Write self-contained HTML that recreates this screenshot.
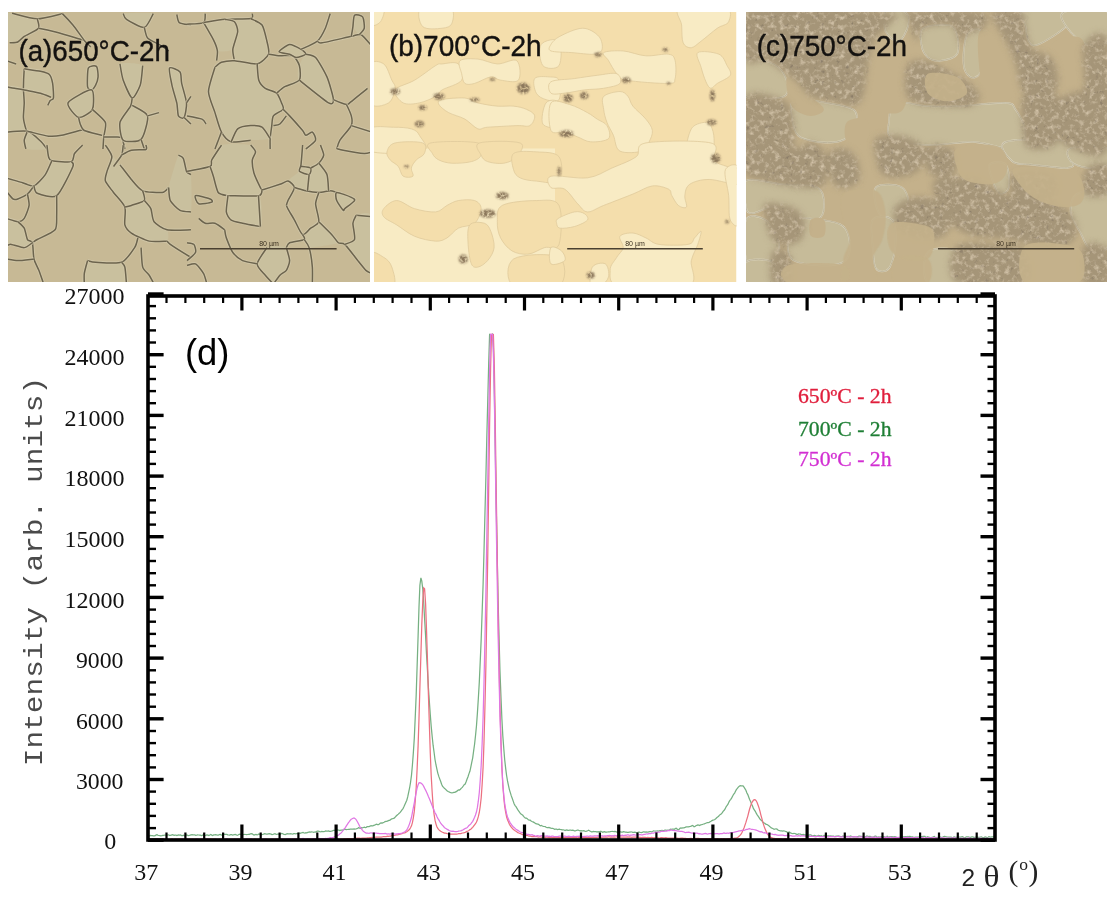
<!DOCTYPE html>
<html><head><meta charset="utf-8"><style>
html,body{margin:0;padding:0;background:#fff;}
body{width:1115px;height:898px;overflow:hidden;position:relative;}
svg{position:absolute;left:0;top:0;}
.tk{font-family:"Liberation Serif",serif;font-size:24px;fill:#111;}
.lab{font-family:"Liberation Sans",sans-serif;font-size:29px;fill:#141210;stroke:#141210;stroke-width:0.4px;}
.leg{font-family:"Liberation Serif",serif;font-size:20px;stroke-width:0.3px;}
.ax{font-family:"Liberation Mono",monospace;font-size:29.3px;fill:#4a4a4a;}
</style></head><body>
<svg width="1115" height="898" viewBox="0 0 1115 898">
<rect width="1115" height="898" fill="#fff"/>
<defs><clipPath id="ca"><rect x="8" y="12" width="362" height="270"/></clipPath><clipPath id="cb"><rect x="374" y="12" width="362.5" height="270"/></clipPath><clipPath id="cc"><rect x="746" y="12" width="361" height="270"/></clipPath><filter id="dk" x="746" y="12" width="361" height="270" filterUnits="userSpaceOnUse" color-interpolation-filters="sRGB"><feGaussianBlur in="SourceGraphic" stdDeviation="3" result="b"/><feTurbulence type="fractalNoise" baseFrequency="0.2" numOctaves="3" seed="7" result="n"/><feColorMatrix in="n" type="matrix" values="0 0 0 0 0.84  0 0 0 0 0.78  0 0 0 0 0.68  2.4 0 0 0 -1.15" result="w"/><feComposite in="w" in2="b" operator="in" result="w2"/><feColorMatrix in="n" type="matrix" values="0 0 0 0 0.45  0 0 0 0 0.4  0 0 0 0 0.35  0 -2.2 0 0 0.75" result="k"/><feComposite in="k" in2="b" operator="in" result="k2"/><feMerge><feMergeNode in="b"/><feMergeNode in="w2"/><feMergeNode in="k2"/></feMerge></filter><filter id="bdk" x="374" y="12" width="363" height="270" filterUnits="userSpaceOnUse" color-interpolation-filters="sRGB"><feGaussianBlur in="SourceGraphic" stdDeviation="1.0" result="b"/><feTurbulence type="fractalNoise" baseFrequency="0.4" numOctaves="2" seed="3" result="n"/><feColorMatrix in="n" type="matrix" values="0 0 0 0 0  0 0 0 0 0  0 0 0 0 0  2.2 0 0 0 -0.25" result="m"/><feComposite in="b" in2="m" operator="in"/></filter><filter id="lsoft" x="746" y="12" width="361" height="270" filterUnits="userSpaceOnUse"><feGaussianBlur stdDeviation="0.6"/></filter></defs>
<g clip-path="url(#ca)">
<rect x="8" y="12" width="362" height="270" fill="rgb(199,185,149)"/>
<g transform="translate(8,12) scale(0.1623)">
<path d="M370,560 C379,540 498,475 515,480 C532,485 529,580 520,600 C511,620 452,655 435,650 C418,645 361,580 370,560Z" fill="rgb(201,192,158)"/>
<path d="M495,345 C501,330 538,329 545,335 C552,341 556,387 555,400 C554,413 545,441 540,450 C535,459 521,479 515,480 C509,481 492,476 490,460 C488,444 489,360 495,345Z" fill="rgb(201,192,158)"/>
<path d="M690,320 C704,310 815,315 830,330 C845,345 823,427 815,450 C807,473 777,534 765,530 C753,526 719,444 710,420 C701,396 676,330 690,320Z" fill="rgb(201,192,158)"/>
<path d="M765,575 C777,582 854,616 860,640 C866,664 838,768 820,785 C802,802 725,802 710,790 C695,778 685,704 690,680 C695,656 746,592 755,580 C764,568 753,568 765,575Z" fill="rgb(201,192,158)"/>
<path d="M995,345 C1001,336 1051,359 1060,370 C1069,381 1065,418 1070,440 C1075,462 1098,536 1100,560 C1102,584 1091,641 1085,650 C1079,659 1055,650 1050,640 C1045,630 1045,582 1040,560 C1035,538 1015,475 1010,450 C1005,425 989,354 995,345Z" fill="rgb(201,192,158)"/>
<path d="M710,10 C729,6 880,0 895,10 C910,20 859,91 840,95 C821,99 745,55 730,45 C715,35 691,14 710,10Z" fill="rgb(201,192,158)"/>
<path d="M-12,470 C1,440 88,459 100,480 C112,501 94,622 95,650 C96,678 122,710 110,720 C98,730 2,769 -12,740 C-26,711 -25,500 -12,470Z" fill="rgb(201,192,158)"/>
<path d="M100,350 C112,337 182,361 200,365 C218,369 246,376 255,385 C264,394 274,424 275,440 C276,456 274,518 265,525 C256,532 219,505 200,500 C181,495 112,498 100,480 C88,462 88,363 100,350Z" fill="rgb(201,192,158)"/>
<path d="M120,735 C132,736 186,782 200,795 C214,808 250,838 240,844 C230,850 126,850 110,844 C94,838 99,803 100,790 C101,777 108,734 120,735Z" fill="rgb(201,192,158)"/>
<path d="M25,8 C47,12 161,31 180,42 C199,53 197,87 188,100 C179,113 121,140 100,150 C79,160 23,196 10,190 C-3,184 -9,121 -12,100 C-15,79 -16,21 -12,10 C-8,-1 3,4 25,8Z" fill="rgb(201,192,158)"/>
<path d="M25,8 C43,12 144,42 180,42 C216,42 317,14 335,10" fill="none" stroke="rgb(210,200,170)" stroke-width="3.2" vector-effect="non-scaling-stroke" stroke-linejoin="round" opacity="0.8"/>
<path d="M25,8 C43,12 144,42 180,42 C216,42 317,14 335,10" fill="none" stroke="rgb(108,100,78)" stroke-width="1.5" vector-effect="non-scaling-stroke" stroke-linejoin="round"/>
<path d="M180,42 C181,49 197,87 188,100 C179,113 115,140 100,150 C85,160 70,180 60,185 C50,190 16,189 10,190" fill="none" stroke="rgb(210,200,170)" stroke-width="3.2" vector-effect="non-scaling-stroke" stroke-linejoin="round" opacity="0.8"/>
<path d="M180,42 C181,49 197,87 188,100 C179,113 115,140 100,150 C85,160 70,180 60,185 C50,190 16,189 10,190" fill="none" stroke="rgb(108,100,78)" stroke-width="1.5" vector-effect="non-scaling-stroke" stroke-linejoin="round"/>
<path d="M188,100 C201,103 273,118 300,125 C327,132 400,154 420,160 C440,166 464,173 470,175" fill="none" stroke="rgb(210,200,170)" stroke-width="3.2" vector-effect="non-scaling-stroke" stroke-linejoin="round" opacity="0.8"/>
<path d="M188,100 C201,103 273,118 300,125 C327,132 400,154 420,160 C440,166 464,173 470,175" fill="none" stroke="rgb(108,100,78)" stroke-width="1.5" vector-effect="non-scaling-stroke" stroke-linejoin="round"/>
<path d="M335,10 C343,18 384,61 400,80 C416,99 457,159 470,175 C483,191 505,210 510,215" fill="none" stroke="rgb(210,200,170)" stroke-width="3.2" vector-effect="non-scaling-stroke" stroke-linejoin="round" opacity="0.8"/>
<path d="M335,10 C343,18 384,61 400,80 C416,99 457,159 470,175 C483,191 505,210 510,215" fill="none" stroke="rgb(108,100,78)" stroke-width="1.5" vector-effect="non-scaling-stroke" stroke-linejoin="round"/>
<path d="M710,10 C712,14 715,35 730,45 C745,55 821,99 840,95 C859,91 889,20 895,10" fill="none" stroke="rgb(210,200,170)" stroke-width="3.2" vector-effect="non-scaling-stroke" stroke-linejoin="round" opacity="0.8"/>
<path d="M710,10 C712,14 715,35 730,45 C745,55 821,99 840,95 C859,91 889,20 895,10" fill="none" stroke="rgb(108,100,78)" stroke-width="1.5" vector-effect="non-scaling-stroke" stroke-linejoin="round"/>
<path d="M840,95 C842,103 850,148 860,160 C870,172 915,191 930,200 C945,209 983,235 990,240" fill="none" stroke="rgb(210,200,170)" stroke-width="3.2" vector-effect="non-scaling-stroke" stroke-linejoin="round" opacity="0.8"/>
<path d="M840,95 C842,103 850,148 860,160 C870,172 915,191 930,200 C945,209 983,235 990,240" fill="none" stroke="rgb(108,100,78)" stroke-width="1.5" vector-effect="non-scaling-stroke" stroke-linejoin="round"/>
<path d="M1040,15 C1042,21 1045,57 1055,65 C1065,73 1119,78 1127,80" fill="none" stroke="rgb(210,200,170)" stroke-width="3.2" vector-effect="non-scaling-stroke" stroke-linejoin="round" opacity="0.8"/>
<path d="M1040,15 C1042,21 1045,57 1055,65 C1065,73 1119,78 1127,80" fill="none" stroke="rgb(108,100,78)" stroke-width="1.5" vector-effect="non-scaling-stroke" stroke-linejoin="round"/>
<path d="M100,350 C99,364 95,446 95,470 C95,494 100,539 100,560 C100,581 94,631 95,650 C96,669 107,710 110,720 C113,730 119,733 120,735" fill="none" stroke="rgb(210,200,170)" stroke-width="3.2" vector-effect="non-scaling-stroke" stroke-linejoin="round" opacity="0.8"/>
<path d="M100,350 C99,364 95,446 95,470 C95,494 100,539 100,560 C100,581 94,631 95,650 C96,669 107,710 110,720 C113,730 119,733 120,735" fill="none" stroke="rgb(108,100,78)" stroke-width="1.5" vector-effect="non-scaling-stroke" stroke-linejoin="round"/>
<path d="M100,350 C112,352 182,361 200,365 C218,369 246,376 255,385 C264,394 272,423 275,440 C278,457 282,518 280,530 C278,542 264,540 260,545 C256,550 247,572 245,575" fill="none" stroke="rgb(210,200,170)" stroke-width="3.2" vector-effect="non-scaling-stroke" stroke-linejoin="round" opacity="0.8"/>
<path d="M100,350 C112,352 182,361 200,365 C218,369 246,376 255,385 C264,394 272,423 275,440 C278,457 282,518 280,530 C278,542 264,540 260,545 C256,550 247,572 245,575" fill="none" stroke="rgb(108,100,78)" stroke-width="1.5" vector-effect="non-scaling-stroke" stroke-linejoin="round"/>
<path d="M-12,460 C-6,461 27,468 40,470 C53,472 81,476 100,480 C119,484 181,495 200,500 C219,505 257,522 265,525" fill="none" stroke="rgb(210,200,170)" stroke-width="3.2" vector-effect="non-scaling-stroke" stroke-linejoin="round" opacity="0.8"/>
<path d="M-12,460 C-6,461 27,468 40,470 C53,472 81,476 100,480 C119,484 181,495 200,500 C219,505 257,522 265,525" fill="none" stroke="rgb(108,100,78)" stroke-width="1.5" vector-effect="non-scaling-stroke" stroke-linejoin="round"/>
<path d="M-12,740 C3,739 95,729 120,735 C145,741 186,782 200,795 C214,808 235,838 240,844" fill="none" stroke="rgb(210,200,170)" stroke-width="3.2" vector-effect="non-scaling-stroke" stroke-linejoin="round" opacity="0.8"/>
<path d="M-12,740 C3,739 95,729 120,735 C145,741 186,782 200,795 C214,808 235,838 240,844" fill="none" stroke="rgb(108,100,78)" stroke-width="1.5" vector-effect="non-scaling-stroke" stroke-linejoin="round"/>
<path d="M120,735 C118,741 101,777 100,790 C99,803 109,838 110,844" fill="none" stroke="rgb(210,200,170)" stroke-width="3.2" vector-effect="non-scaling-stroke" stroke-linejoin="round" opacity="0.8"/>
<path d="M120,735 C118,741 101,777 100,790 C99,803 109,838 110,844" fill="none" stroke="rgb(108,100,78)" stroke-width="1.5" vector-effect="non-scaling-stroke" stroke-linejoin="round"/>
<path d="M120,735 C135,738 226,762 250,765 C274,768 308,764 330,760 C352,756 424,734 440,730 C456,726 466,730 470,730" fill="none" stroke="rgb(210,200,170)" stroke-width="3.2" vector-effect="non-scaling-stroke" stroke-linejoin="round" opacity="0.8"/>
<path d="M120,735 C135,738 226,762 250,765 C274,768 308,764 330,760 C352,756 424,734 440,730 C456,726 466,730 470,730" fill="none" stroke="rgb(108,100,78)" stroke-width="1.5" vector-effect="non-scaling-stroke" stroke-linejoin="round"/>
<path d="M495,345 C501,330 538,329 545,335 C552,341 556,387 555,400 C554,413 545,441 540,450 C535,459 521,479 515,480 C509,481 492,476 490,460 C488,444 489,360 495,345Z" fill="none" stroke="rgb(210,200,170)" stroke-width="3.2" vector-effect="non-scaling-stroke" stroke-linejoin="round" opacity="0.8"/>
<path d="M495,345 C501,330 538,329 545,335 C552,341 556,387 555,400 C554,413 545,441 540,450 C535,459 521,479 515,480 C509,481 492,476 490,460 C488,444 489,360 495,345Z" fill="none" stroke="rgb(108,100,78)" stroke-width="1.5" vector-effect="non-scaling-stroke" stroke-linejoin="round"/>
<path d="M515,480 C498,475 379,540 370,560 C361,580 418,645 435,650 C452,655 511,620 520,600 C529,580 532,485 515,480Z" fill="none" stroke="rgb(210,200,170)" stroke-width="3.2" vector-effect="non-scaling-stroke" stroke-linejoin="round" opacity="0.8"/>
<path d="M515,480 C498,475 379,540 370,560 C361,580 418,645 435,650 C452,655 511,620 520,600 C529,580 532,485 515,480Z" fill="none" stroke="rgb(108,100,78)" stroke-width="1.5" vector-effect="non-scaling-stroke" stroke-linejoin="round"/>
<path d="M435,650 C436,655 441,681 445,690 C449,699 454,722 470,730 C486,738 567,756 580,760" fill="none" stroke="rgb(210,200,170)" stroke-width="3.2" vector-effect="non-scaling-stroke" stroke-linejoin="round" opacity="0.8"/>
<path d="M435,650 C436,655 441,681 445,690 C449,699 454,722 470,730 C486,738 567,756 580,760" fill="none" stroke="rgb(108,100,78)" stroke-width="1.5" vector-effect="non-scaling-stroke" stroke-linejoin="round"/>
<path d="M520,600 C529,609 592,660 600,680 C608,700 592,751 590,770 C588,789 586,835 585,844" fill="none" stroke="rgb(210,200,170)" stroke-width="3.2" vector-effect="non-scaling-stroke" stroke-linejoin="round" opacity="0.8"/>
<path d="M520,600 C529,609 592,660 600,680 C608,700 592,751 590,770 C588,789 586,835 585,844" fill="none" stroke="rgb(108,100,78)" stroke-width="1.5" vector-effect="non-scaling-stroke" stroke-linejoin="round"/>
<path d="M590,770 C597,770 637,769 650,770 C663,771 692,766 700,775 C708,784 718,836 720,844" fill="none" stroke="rgb(210,200,170)" stroke-width="3.2" vector-effect="non-scaling-stroke" stroke-linejoin="round" opacity="0.8"/>
<path d="M590,770 C597,770 637,769 650,770 C663,771 692,766 700,775 C708,784 718,836 720,844" fill="none" stroke="rgb(108,100,78)" stroke-width="1.5" vector-effect="non-scaling-stroke" stroke-linejoin="round"/>
<path d="M690,320 C692,332 701,396 710,420 C719,444 753,526 765,530 C777,534 807,473 815,450 C823,427 828,344 830,330" fill="none" stroke="rgb(210,200,170)" stroke-width="3.2" vector-effect="non-scaling-stroke" stroke-linejoin="round" opacity="0.8"/>
<path d="M690,320 C692,332 701,396 710,420 C719,444 753,526 765,530 C777,534 807,473 815,450 C823,427 828,344 830,330" fill="none" stroke="rgb(108,100,78)" stroke-width="1.5" vector-effect="non-scaling-stroke" stroke-linejoin="round"/>
<path d="M765,530 C764,536 764,562 755,580 C746,598 695,656 690,680 C685,704 695,778 710,790 C725,802 802,802 820,785 C838,768 866,664 860,640 C854,616 776,583 765,575" fill="none" stroke="rgb(210,200,170)" stroke-width="3.2" vector-effect="non-scaling-stroke" stroke-linejoin="round" opacity="0.8"/>
<path d="M765,530 C764,536 764,562 755,580 C746,598 695,656 690,680 C685,704 695,778 710,790 C725,802 802,802 820,785 C838,768 866,664 860,640 C854,616 776,583 765,575" fill="none" stroke="rgb(108,100,78)" stroke-width="1.5" vector-effect="non-scaling-stroke" stroke-linejoin="round"/>
<path d="M860,640 L930,620" fill="none" stroke="rgb(210,200,170)" stroke-width="3.2" vector-effect="non-scaling-stroke" stroke-linejoin="round" opacity="0.8"/>
<path d="M860,640 L930,620" fill="none" stroke="rgb(108,100,78)" stroke-width="1.5" vector-effect="non-scaling-stroke" stroke-linejoin="round"/>
<path d="M820,785 L840,844" fill="none" stroke="rgb(210,200,170)" stroke-width="3.2" vector-effect="non-scaling-stroke" stroke-linejoin="round" opacity="0.8"/>
<path d="M820,785 L840,844" fill="none" stroke="rgb(108,100,78)" stroke-width="1.5" vector-effect="non-scaling-stroke" stroke-linejoin="round"/>
<path d="M995,345 C989,354 1005,425 1010,450 C1015,475 1035,538 1040,560 C1045,582 1045,630 1050,640 C1055,650 1079,659 1085,650 C1091,641 1102,584 1100,560 C1098,536 1075,462 1070,440 C1065,418 1069,381 1060,370 C1051,359 1001,336 995,345Z" fill="none" stroke="rgb(210,200,170)" stroke-width="3.2" vector-effect="non-scaling-stroke" stroke-linejoin="round" opacity="0.8"/>
<path d="M995,345 C989,354 1005,425 1010,450 C1015,475 1035,538 1040,560 C1045,582 1045,630 1050,640 C1055,650 1079,659 1085,650 C1091,641 1102,584 1100,560 C1098,536 1075,462 1070,440 C1065,418 1069,381 1060,370 C1051,359 1001,336 995,345Z" fill="none" stroke="rgb(108,100,78)" stroke-width="1.5" vector-effect="non-scaling-stroke" stroke-linejoin="round"/>
<path d="M1100,560 L1127,520" fill="none" stroke="rgb(210,200,170)" stroke-width="3.2" vector-effect="non-scaling-stroke" stroke-linejoin="round" opacity="0.8"/>
<path d="M1100,560 L1127,520" fill="none" stroke="rgb(108,100,78)" stroke-width="1.5" vector-effect="non-scaling-stroke" stroke-linejoin="round"/>
<path d="M1085,650 L1127,690" fill="none" stroke="rgb(210,200,170)" stroke-width="3.2" vector-effect="non-scaling-stroke" stroke-linejoin="round" opacity="0.8"/>
<path d="M1085,650 L1127,690" fill="none" stroke="rgb(108,100,78)" stroke-width="1.5" vector-effect="non-scaling-stroke" stroke-linejoin="round"/>
<path d="M-12,300 L50,320" fill="none" stroke="rgb(210,200,170)" stroke-width="3.2" vector-effect="non-scaling-stroke" stroke-linejoin="round" opacity="0.8"/>
<path d="M-12,300 L50,320" fill="none" stroke="rgb(108,100,78)" stroke-width="1.5" vector-effect="non-scaling-stroke" stroke-linejoin="round"/>
</g>
<g transform="translate(189,12) scale(0.1623)">
<path d="M160,340 C169,319 186,315 200,310 C214,305 254,299 280,300 C306,301 402,306 420,320 C438,334 424,402 430,420 C436,438 457,461 470,470 C483,479 528,490 540,500 C552,510 565,548 570,560 C575,572 586,591 580,600 C574,609 528,628 520,640 C512,652 512,684 510,700 C508,716 515,770 500,780 C485,790 408,788 380,790 C352,792 281,806 260,800 C239,794 212,761 200,740 C188,719 169,649 160,620 C151,591 120,523 120,490 C120,457 151,361 160,340Z" fill="rgb(201,192,158)"/>
<path d="M720,260 C732,254 765,264 780,280 C795,296 837,370 850,400 C863,430 889,521 890,540 C891,559 884,574 860,560 C836,546 701,447 680,420 C659,393 675,349 680,330 C685,311 708,266 720,260Z" fill="rgb(201,192,158)"/>
<path d="M90,65 C98,50 198,46 220,45 C242,44 271,51 280,60 C289,69 301,100 300,120 C299,140 285,216 270,230 C255,244 189,247 175,240 C161,233 160,190 150,170 C140,150 82,80 90,65Z" fill="rgb(201,192,158)"/>
<path d="M1020,20 C1027,13 1063,21 1070,30 C1077,39 1082,87 1080,100 C1078,113 1058,141 1050,140 C1042,139 1014,104 1010,90 C1006,76 1013,27 1020,20Z" fill="rgb(201,192,158)"/>
<path d="M555,245 C555,238 604,202 620,200 C636,198 678,223 690,230 C702,237 724,254 720,260 C716,266 672,280 660,280 C648,280 632,264 620,260 C608,256 555,252 555,245Z" fill="rgb(201,192,158)"/>
<path d="M300,120 C301,100 271,69 280,60 C289,51 360,38 380,40 C400,42 438,64 450,80 C462,96 475,159 480,180 C485,201 497,244 490,260 C483,276 444,315 420,320 C396,325 298,310 280,300 C262,290 268,251 270,230 C272,209 299,140 300,120Z" fill="rgb(201,192,158)"/>
<path d="M-12,75 C-0,74 77,73 90,65 C103,57 99,16 100,10" fill="none" stroke="rgb(210,200,170)" stroke-width="3.2" vector-effect="non-scaling-stroke" stroke-linejoin="round" opacity="0.8"/>
<path d="M-12,75 C-0,74 77,73 90,65 C103,57 99,16 100,10" fill="none" stroke="rgb(108,100,78)" stroke-width="1.5" vector-effect="non-scaling-stroke" stroke-linejoin="round"/>
<path d="M90,65 C97,77 140,150 150,170 C160,190 173,225 175,240 C177,255 171,293 170,300" fill="none" stroke="rgb(210,200,170)" stroke-width="3.2" vector-effect="non-scaling-stroke" stroke-linejoin="round" opacity="0.8"/>
<path d="M90,65 C97,77 140,150 150,170 C160,190 173,225 175,240 C177,255 171,293 170,300" fill="none" stroke="rgb(108,100,78)" stroke-width="1.5" vector-effect="non-scaling-stroke" stroke-linejoin="round"/>
<path d="M90,65 C105,63 186,48 220,45 C254,42 360,44 380,40 C400,36 389,14 390,10" fill="none" stroke="rgb(210,200,170)" stroke-width="3.2" vector-effect="non-scaling-stroke" stroke-linejoin="round" opacity="0.8"/>
<path d="M90,65 C105,63 186,48 220,45 C254,42 360,44 380,40 C400,36 389,14 390,10" fill="none" stroke="rgb(108,100,78)" stroke-width="1.5" vector-effect="non-scaling-stroke" stroke-linejoin="round"/>
<path d="M220,45 C227,47 271,51 280,60 C289,69 301,100 300,120 C299,140 272,209 270,230 C268,251 279,292 280,300" fill="none" stroke="rgb(210,200,170)" stroke-width="3.2" vector-effect="non-scaling-stroke" stroke-linejoin="round" opacity="0.8"/>
<path d="M220,45 C227,47 271,51 280,60 C289,69 301,100 300,120 C299,140 272,209 270,230 C268,251 279,292 280,300" fill="none" stroke="rgb(108,100,78)" stroke-width="1.5" vector-effect="non-scaling-stroke" stroke-linejoin="round"/>
<path d="M380,40 C388,45 438,64 450,80 C462,96 475,159 480,180 C485,201 497,244 490,260 C483,276 444,315 420,320 C396,325 306,301 280,300 C254,299 214,305 200,310 C186,315 165,336 160,340" fill="none" stroke="rgb(210,200,170)" stroke-width="3.2" vector-effect="non-scaling-stroke" stroke-linejoin="round" opacity="0.8"/>
<path d="M380,40 C388,45 438,64 450,80 C462,96 475,159 480,180 C485,201 497,244 490,260 C483,276 444,315 420,320 C396,325 306,301 280,300 C254,299 214,305 200,310 C186,315 165,336 160,340" fill="none" stroke="rgb(108,100,78)" stroke-width="1.5" vector-effect="non-scaling-stroke" stroke-linejoin="round"/>
<path d="M160,340 C155,358 120,457 120,490 C120,523 151,591 160,620 C169,649 188,719 200,740 C212,761 239,794 260,800 C281,806 366,791 380,790" fill="none" stroke="rgb(210,200,170)" stroke-width="3.2" vector-effect="non-scaling-stroke" stroke-linejoin="round" opacity="0.8"/>
<path d="M160,340 C155,358 120,457 120,490 C120,523 151,591 160,620 C169,649 188,719 200,740 C212,761 239,794 260,800 C281,806 366,791 380,790" fill="none" stroke="rgb(108,100,78)" stroke-width="1.5" vector-effect="non-scaling-stroke" stroke-linejoin="round"/>
<path d="M420,320 C421,332 424,402 430,420 C436,438 457,461 470,470 C483,479 528,490 540,500 C552,510 565,548 570,560 C575,572 586,591 580,600 C574,609 528,628 520,640 C512,652 512,684 510,700 C508,716 501,763 500,780 C499,797 500,837 500,844" fill="none" stroke="rgb(210,200,170)" stroke-width="3.2" vector-effect="non-scaling-stroke" stroke-linejoin="round" opacity="0.8"/>
<path d="M420,320 C421,332 424,402 430,420 C436,438 457,461 470,470 C483,479 528,490 540,500 C552,510 565,548 570,560 C575,572 586,591 580,600 C574,609 528,628 520,640 C512,652 512,684 510,700 C508,716 501,763 500,780 C499,797 500,837 500,844" fill="none" stroke="rgb(108,100,78)" stroke-width="1.5" vector-effect="non-scaling-stroke" stroke-linejoin="round"/>
<path d="M490,260 C498,261 542,269 560,270 C578,271 626,263 640,270 C654,277 675,312 680,330 C685,348 690,405 680,420 C670,435 606,451 590,460 C574,469 546,495 540,500" fill="none" stroke="rgb(210,200,170)" stroke-width="3.2" vector-effect="non-scaling-stroke" stroke-linejoin="round" opacity="0.8"/>
<path d="M490,260 C498,261 542,269 560,270 C578,271 626,263 640,270 C654,277 675,312 680,330 C685,348 690,405 680,420 C670,435 606,451 590,460 C574,469 546,495 540,500" fill="none" stroke="rgb(108,100,78)" stroke-width="1.5" vector-effect="non-scaling-stroke" stroke-linejoin="round"/>
<path d="M555,245 C555,238 604,202 620,200 C636,198 678,223 690,230 C702,237 724,254 720,260 C716,266 672,280 660,280 C648,280 632,264 620,260 C608,256 555,252 555,245Z" fill="none" stroke="rgb(210,200,170)" stroke-width="3.2" vector-effect="non-scaling-stroke" stroke-linejoin="round" opacity="0.8"/>
<path d="M555,245 C555,238 604,202 620,200 C636,198 678,223 690,230 C702,237 724,254 720,260 C716,266 672,280 660,280 C648,280 632,264 620,260 C608,256 555,252 555,245Z" fill="none" stroke="rgb(108,100,78)" stroke-width="1.5" vector-effect="non-scaling-stroke" stroke-linejoin="round"/>
<path d="M690,230 C702,224 772,195 790,180 C808,165 831,120 840,100 C849,80 866,20 870,10" fill="none" stroke="rgb(210,200,170)" stroke-width="3.2" vector-effect="non-scaling-stroke" stroke-linejoin="round" opacity="0.8"/>
<path d="M690,230 C702,224 772,195 790,180 C808,165 831,120 840,100 C849,80 866,20 870,10" fill="none" stroke="rgb(108,100,78)" stroke-width="1.5" vector-effect="non-scaling-stroke" stroke-linejoin="round"/>
<path d="M790,180 C794,181 796,194 820,190 C844,186 972,156 1000,150 C1028,144 1045,133 1060,140 C1075,147 1119,202 1127,210" fill="none" stroke="rgb(210,200,170)" stroke-width="3.2" vector-effect="non-scaling-stroke" stroke-linejoin="round" opacity="0.8"/>
<path d="M790,180 C794,181 796,194 820,190 C844,186 972,156 1000,150 C1028,144 1045,133 1060,140 C1075,147 1119,202 1127,210" fill="none" stroke="rgb(108,100,78)" stroke-width="1.5" vector-effect="non-scaling-stroke" stroke-linejoin="round"/>
<path d="M1000,150 C1001,143 1008,105 1010,90 C1012,75 1013,27 1020,20 C1027,13 1063,21 1070,30 C1077,39 1082,87 1080,100 C1078,113 1054,135 1050,140" fill="none" stroke="rgb(210,200,170)" stroke-width="3.2" vector-effect="non-scaling-stroke" stroke-linejoin="round" opacity="0.8"/>
<path d="M1000,150 C1001,143 1008,105 1010,90 C1012,75 1013,27 1020,20 C1027,13 1063,21 1070,30 C1077,39 1082,87 1080,100 C1078,113 1054,135 1050,140" fill="none" stroke="rgb(108,100,78)" stroke-width="1.5" vector-effect="non-scaling-stroke" stroke-linejoin="round"/>
<path d="M720,260 C727,262 765,264 780,280 C795,296 837,370 850,400 C863,430 889,521 890,540 C891,559 884,574 860,560 C836,546 701,436 680,420" fill="none" stroke="rgb(210,200,170)" stroke-width="3.2" vector-effect="non-scaling-stroke" stroke-linejoin="round" opacity="0.8"/>
<path d="M720,260 C727,262 765,264 780,280 C795,296 837,370 850,400 C863,430 889,521 890,540 C891,559 884,574 860,560 C836,546 701,436 680,420" fill="none" stroke="rgb(108,100,78)" stroke-width="1.5" vector-effect="non-scaling-stroke" stroke-linejoin="round"/>
<path d="M890,540 C899,544 958,568 970,570 C982,572 975,572 990,560 C1005,548 1087,480 1100,470" fill="none" stroke="rgb(210,200,170)" stroke-width="3.2" vector-effect="non-scaling-stroke" stroke-linejoin="round" opacity="0.8"/>
<path d="M890,540 C899,544 958,568 970,570 C982,572 975,572 990,560 C1005,548 1087,480 1100,470" fill="none" stroke="rgb(108,100,78)" stroke-width="1.5" vector-effect="non-scaling-stroke" stroke-linejoin="round"/>
<path d="M970,570 C974,578 996,625 1000,640 C1004,655 1008,682 1000,700 C992,718 940,773 930,790 C920,807 912,838 910,844" fill="none" stroke="rgb(210,200,170)" stroke-width="3.2" vector-effect="non-scaling-stroke" stroke-linejoin="round" opacity="0.8"/>
<path d="M970,570 C974,578 996,625 1000,640 C1004,655 1008,682 1000,700 C992,718 940,773 930,790 C920,807 912,838 910,844" fill="none" stroke="rgb(108,100,78)" stroke-width="1.5" vector-effect="non-scaling-stroke" stroke-linejoin="round"/>
<path d="M1000,700 L1127,740" fill="none" stroke="rgb(210,200,170)" stroke-width="3.2" vector-effect="non-scaling-stroke" stroke-linejoin="round" opacity="0.8"/>
<path d="M1000,700 L1127,740" fill="none" stroke="rgb(108,100,78)" stroke-width="1.5" vector-effect="non-scaling-stroke" stroke-linejoin="round"/>
<path d="M580,600 C585,605 606,625 620,640 C634,655 688,716 700,730 C712,744 713,759 720,760 C727,761 753,736 760,740 C767,744 785,778 780,790 C775,802 727,838 720,844" fill="none" stroke="rgb(210,200,170)" stroke-width="3.2" vector-effect="non-scaling-stroke" stroke-linejoin="round" opacity="0.8"/>
<path d="M580,600 C585,605 606,625 620,640 C634,655 688,716 700,730 C712,744 713,759 720,760 C727,761 753,736 760,740 C767,744 785,778 780,790 C775,802 727,838 720,844" fill="none" stroke="rgb(108,100,78)" stroke-width="1.5" vector-effect="non-scaling-stroke" stroke-linejoin="round"/>
<path d="M600,640 C595,646 569,683 560,690 C551,697 525,699 520,700" fill="none" stroke="rgb(210,200,170)" stroke-width="3.2" vector-effect="non-scaling-stroke" stroke-linejoin="round" opacity="0.8"/>
<path d="M600,640 C595,646 569,683 560,690 C551,697 525,699 520,700" fill="none" stroke="rgb(108,100,78)" stroke-width="1.5" vector-effect="non-scaling-stroke" stroke-linejoin="round"/>
<path d="M260,800 C265,791 286,732 300,720 C314,708 362,701 380,700 C398,699 436,701 450,710 C464,719 494,772 500,780" fill="none" stroke="rgb(210,200,170)" stroke-width="3.2" vector-effect="non-scaling-stroke" stroke-linejoin="round" opacity="0.8"/>
<path d="M260,800 C265,791 286,732 300,720 C314,708 362,701 380,700 C398,699 436,701 450,710 C464,719 494,772 500,780" fill="none" stroke="rgb(108,100,78)" stroke-width="1.5" vector-effect="non-scaling-stroke" stroke-linejoin="round"/>
<path d="M-12,640 C-1,642 66,654 80,660 C94,666 102,686 105,690" fill="none" stroke="rgb(210,200,170)" stroke-width="3.2" vector-effect="non-scaling-stroke" stroke-linejoin="round" opacity="0.8"/>
<path d="M-12,640 C-1,642 66,654 80,660 C94,666 102,686 105,690" fill="none" stroke="rgb(108,100,78)" stroke-width="1.5" vector-effect="non-scaling-stroke" stroke-linejoin="round"/>
<path d="M200,740 L160,844" fill="none" stroke="rgb(210,200,170)" stroke-width="3.2" vector-effect="non-scaling-stroke" stroke-linejoin="round" opacity="0.8"/>
<path d="M200,740 L160,844" fill="none" stroke="rgb(108,100,78)" stroke-width="1.5" vector-effect="non-scaling-stroke" stroke-linejoin="round"/>
</g>
<g transform="translate(8,147) scale(0.1623)">
<path d="M160,240 C166,227 217,188 230,170 C243,152 251,94 270,85 C289,76 375,86 390,90 C405,94 410,96 400,120 C390,144 326,281 300,300 C274,319 196,292 180,285 C164,278 154,253 160,240Z" fill="rgb(201,192,158)"/>
<path d="M610,150 C615,132 631,65 640,60 C649,55 676,94 690,110 C704,126 744,181 760,200 C776,219 821,255 830,270 C839,285 848,320 840,330 C832,340 774,355 760,360 C746,365 733,379 720,370 C707,361 664,299 650,280 C636,261 605,225 600,210 C595,195 605,168 610,150Z" fill="rgb(201,192,158)"/>
<path d="M720,370 C725,356 746,365 760,360 C774,355 826,328 840,330 C854,332 873,365 880,380 C887,395 888,445 900,460 C912,475 971,496 980,510 C989,524 993,572 980,580 C967,588 896,586 870,580 C844,574 778,542 760,530 C742,518 725,499 720,480 C715,461 715,384 720,370Z" fill="rgb(201,192,158)"/>
<path d="M-12,440 C-4,422 47,453 60,460 C73,467 93,487 100,500 C107,513 114,560 120,570 C126,580 152,584 150,590 C148,596 115,619 100,620 C85,621 33,601 20,600 C7,599 -8,629 -12,610 C-16,591 -20,458 -12,440Z" fill="rgb(201,192,158)"/>
<path d="M490,700 C498,692 516,709 540,710 C564,711 679,706 700,710 C721,714 716,724 720,740 C724,756 759,832 730,844 C701,856 500,851 470,844 C440,837 468,797 470,780 C472,763 482,708 490,700Z" fill="rgb(201,192,158)"/>
<path d="M990,250 C984,283 992,314 1000,330 C1008,346 1045,382 1060,390 C1075,398 1119,426 1127,400 C1135,374 1130,199 1127,170 C1124,141 1105,162 1100,150 C1095,138 1086,82 1080,70 C1074,58 1060,29 1050,50 C1040,71 996,217 990,250Z" fill="rgb(201,192,158)"/>
<path d="M240,-12 C241,-4 246,49 250,60 C254,71 254,82 270,85 C286,88 374,95 390,90 C406,85 402,52 410,40 C418,28 454,-6 460,-12" fill="none" stroke="rgb(210,200,170)" stroke-width="3.2" vector-effect="non-scaling-stroke" stroke-linejoin="round" opacity="0.8"/>
<path d="M240,-12 C241,-4 246,49 250,60 C254,71 254,82 270,85 C286,88 374,95 390,90 C406,85 402,52 410,40 C418,28 454,-6 460,-12" fill="none" stroke="rgb(108,100,78)" stroke-width="1.5" vector-effect="non-scaling-stroke" stroke-linejoin="round"/>
<path d="M270,85 C265,95 243,152 230,170 C217,188 176,234 160,240 C144,246 110,226 90,220 C70,214 -0,194 -12,190" fill="none" stroke="rgb(210,200,170)" stroke-width="3.2" vector-effect="non-scaling-stroke" stroke-linejoin="round" opacity="0.8"/>
<path d="M270,85 C265,95 243,152 230,170 C217,188 176,234 160,240 C144,246 110,226 90,220 C70,214 -0,194 -12,190" fill="none" stroke="rgb(108,100,78)" stroke-width="1.5" vector-effect="non-scaling-stroke" stroke-linejoin="round"/>
<path d="M160,240 C155,246 132,281 120,290 C108,299 70,316 60,320 C50,324 38,326 30,320 C22,314 -7,276 -12,270" fill="none" stroke="rgb(210,200,170)" stroke-width="3.2" vector-effect="non-scaling-stroke" stroke-linejoin="round" opacity="0.8"/>
<path d="M160,240 C155,246 132,281 120,290 C108,299 70,316 60,320 C50,324 38,326 30,320 C22,314 -7,276 -12,270" fill="none" stroke="rgb(108,100,78)" stroke-width="1.5" vector-effect="non-scaling-stroke" stroke-linejoin="round"/>
<path d="M160,240 C162,245 164,278 180,285 C196,292 274,319 300,300 C326,281 390,144 400,120 C410,96 391,94 390,90" fill="none" stroke="rgb(210,200,170)" stroke-width="3.2" vector-effect="non-scaling-stroke" stroke-linejoin="round" opacity="0.8"/>
<path d="M160,240 C162,245 164,278 180,285 C196,292 274,319 300,300 C326,281 390,144 400,120 C410,96 391,94 390,90" fill="none" stroke="rgb(108,100,78)" stroke-width="1.5" vector-effect="non-scaling-stroke" stroke-linejoin="round"/>
<path d="M300,300 C300,314 301,396 300,420 C299,444 304,492 290,510 C276,528 196,561 180,570 C164,579 154,588 150,590" fill="none" stroke="rgb(210,200,170)" stroke-width="3.2" vector-effect="non-scaling-stroke" stroke-linejoin="round" opacity="0.8"/>
<path d="M300,300 C300,314 301,396 300,420 C299,444 304,492 290,510 C276,528 196,561 180,570 C164,579 154,588 150,590" fill="none" stroke="rgb(108,100,78)" stroke-width="1.5" vector-effect="non-scaling-stroke" stroke-linejoin="round"/>
<path d="M120,290 C121,298 132,342 130,360 C128,378 108,428 100,440 C92,452 73,460 60,460 C47,460 -4,442 -12,440" fill="none" stroke="rgb(210,200,170)" stroke-width="3.2" vector-effect="non-scaling-stroke" stroke-linejoin="round" opacity="0.8"/>
<path d="M120,290 C121,298 132,342 130,360 C128,378 108,428 100,440 C92,452 73,460 60,460 C47,460 -4,442 -12,440" fill="none" stroke="rgb(108,100,78)" stroke-width="1.5" vector-effect="non-scaling-stroke" stroke-linejoin="round"/>
<path d="M60,460 C65,465 93,487 100,500 C107,513 114,560 120,570 C126,580 145,576 150,590 C155,604 155,670 160,690 C165,710 183,742 190,760 C197,778 216,834 220,844" fill="none" stroke="rgb(210,200,170)" stroke-width="3.2" vector-effect="non-scaling-stroke" stroke-linejoin="round" opacity="0.8"/>
<path d="M60,460 C65,465 93,487 100,500 C107,513 114,560 120,570 C126,580 145,576 150,590 C155,604 155,670 160,690 C165,710 183,742 190,760 C197,778 216,834 220,844" fill="none" stroke="rgb(108,100,78)" stroke-width="1.5" vector-effect="non-scaling-stroke" stroke-linejoin="round"/>
<path d="M150,590 C144,594 115,619 100,620 C85,621 33,601 20,600 C7,599 -8,609 -12,610" fill="none" stroke="rgb(210,200,170)" stroke-width="3.2" vector-effect="non-scaling-stroke" stroke-linejoin="round" opacity="0.8"/>
<path d="M150,590 C144,594 115,619 100,620 C85,621 33,601 20,600 C7,599 -8,609 -12,610" fill="none" stroke="rgb(108,100,78)" stroke-width="1.5" vector-effect="non-scaling-stroke" stroke-linejoin="round"/>
<path d="M160,690 C148,691 80,700 60,700 C40,700 -4,691 -12,690" fill="none" stroke="rgb(210,200,170)" stroke-width="3.2" vector-effect="non-scaling-stroke" stroke-linejoin="round" opacity="0.8"/>
<path d="M160,690 C148,691 80,700 60,700 C40,700 -4,691 -12,690" fill="none" stroke="rgb(108,100,78)" stroke-width="1.5" vector-effect="non-scaling-stroke" stroke-linejoin="round"/>
<path d="M600,-12 C605,-4 639,41 640,60 C641,79 615,132 610,150 C605,168 595,195 600,210 C605,225 636,261 650,280 C664,299 712,347 720,370 C728,393 715,461 720,480 C725,499 742,518 760,530 C778,542 844,574 870,580 C896,586 967,580 980,580" fill="none" stroke="rgb(210,200,170)" stroke-width="3.2" vector-effect="non-scaling-stroke" stroke-linejoin="round" opacity="0.8"/>
<path d="M600,-12 C605,-4 639,41 640,60 C641,79 615,132 610,150 C605,168 595,195 600,210 C605,225 636,261 650,280 C664,299 712,347 720,370 C728,393 715,461 720,480 C725,499 742,518 760,530 C778,542 844,574 870,580 C896,586 967,580 980,580" fill="none" stroke="rgb(108,100,78)" stroke-width="1.5" vector-effect="non-scaling-stroke" stroke-linejoin="round"/>
<path d="M710,-12 C709,-5 707,35 700,50 C693,65 656,112 650,120" fill="none" stroke="rgb(210,200,170)" stroke-width="3.2" vector-effect="non-scaling-stroke" stroke-linejoin="round" opacity="0.8"/>
<path d="M710,-12 C709,-5 707,35 700,50 C693,65 656,112 650,120" fill="none" stroke="rgb(108,100,78)" stroke-width="1.5" vector-effect="non-scaling-stroke" stroke-linejoin="round"/>
<path d="M700,50 C707,46 742,24 760,20 C778,16 840,19 850,15 C860,11 850,-9 850,-12" fill="none" stroke="rgb(210,200,170)" stroke-width="3.2" vector-effect="non-scaling-stroke" stroke-linejoin="round" opacity="0.8"/>
<path d="M700,50 C707,46 742,24 760,20 C778,16 840,19 850,15 C860,11 850,-9 850,-12" fill="none" stroke="rgb(108,100,78)" stroke-width="1.5" vector-effect="non-scaling-stroke" stroke-linejoin="round"/>
<path d="M690,110 C698,120 744,181 760,200 C776,219 808,261 830,270 C852,279 931,282 950,280 C969,278 985,254 990,250" fill="none" stroke="rgb(210,200,170)" stroke-width="3.2" vector-effect="non-scaling-stroke" stroke-linejoin="round" opacity="0.8"/>
<path d="M690,110 C698,120 744,181 760,200 C776,219 808,261 830,270 C852,279 931,282 950,280 C969,278 985,254 990,250" fill="none" stroke="rgb(108,100,78)" stroke-width="1.5" vector-effect="non-scaling-stroke" stroke-linejoin="round"/>
<path d="M830,270 C831,277 848,320 840,330 C832,340 774,355 760,360 C746,365 725,369 720,370" fill="none" stroke="rgb(210,200,170)" stroke-width="3.2" vector-effect="non-scaling-stroke" stroke-linejoin="round" opacity="0.8"/>
<path d="M830,270 C831,277 848,320 840,330 C832,340 774,355 760,360 C746,365 725,369 720,370" fill="none" stroke="rgb(108,100,78)" stroke-width="1.5" vector-effect="non-scaling-stroke" stroke-linejoin="round"/>
<path d="M840,330 C845,336 873,365 880,380 C887,395 888,445 900,460 C912,475 954,504 980,510 C1006,516 1110,510 1127,510" fill="none" stroke="rgb(210,200,170)" stroke-width="3.2" vector-effect="non-scaling-stroke" stroke-linejoin="round" opacity="0.8"/>
<path d="M840,330 C845,336 873,365 880,380 C887,395 888,445 900,460 C912,475 954,504 980,510 C1006,516 1110,510 1127,510" fill="none" stroke="rgb(108,100,78)" stroke-width="1.5" vector-effect="non-scaling-stroke" stroke-linejoin="round"/>
<path d="M990,250 C991,259 992,314 1000,330 C1008,346 1045,382 1060,390 C1075,398 1119,399 1127,400" fill="none" stroke="rgb(210,200,170)" stroke-width="3.2" vector-effect="non-scaling-stroke" stroke-linejoin="round" opacity="0.8"/>
<path d="M990,250 C991,259 992,314 1000,330 C1008,346 1045,382 1060,390 C1075,398 1119,399 1127,400" fill="none" stroke="rgb(108,100,78)" stroke-width="1.5" vector-effect="non-scaling-stroke" stroke-linejoin="round"/>
<path d="M980,580 C982,582 983,588 1000,600 C1017,612 1112,671 1127,680" fill="none" stroke="rgb(210,200,170)" stroke-width="3.2" vector-effect="non-scaling-stroke" stroke-linejoin="round" opacity="0.8"/>
<path d="M980,580 C982,582 983,588 1000,600 C1017,612 1112,671 1127,680" fill="none" stroke="rgb(108,100,78)" stroke-width="1.5" vector-effect="non-scaling-stroke" stroke-linejoin="round"/>
<path d="M1050,50 C1054,52 1074,58 1080,70 C1086,82 1095,138 1100,150 C1105,162 1124,168 1127,170" fill="none" stroke="rgb(210,200,170)" stroke-width="3.2" vector-effect="non-scaling-stroke" stroke-linejoin="round" opacity="0.8"/>
<path d="M1050,50 C1054,52 1074,58 1080,70 C1086,82 1095,138 1100,150 C1105,162 1124,168 1127,170" fill="none" stroke="rgb(108,100,78)" stroke-width="1.5" vector-effect="non-scaling-stroke" stroke-linejoin="round"/>
<path d="M490,700 C496,701 516,709 540,710 C564,711 672,720 700,710 C728,700 768,638 780,620 C792,602 798,567 800,560" fill="none" stroke="rgb(210,200,170)" stroke-width="3.2" vector-effect="non-scaling-stroke" stroke-linejoin="round" opacity="0.8"/>
<path d="M490,700 C496,701 516,709 540,710 C564,711 672,720 700,710 C728,700 768,638 780,620 C792,602 798,567 800,560" fill="none" stroke="rgb(108,100,78)" stroke-width="1.5" vector-effect="non-scaling-stroke" stroke-linejoin="round"/>
<path d="M700,710 C702,714 716,724 720,740 C724,756 729,832 730,844" fill="none" stroke="rgb(210,200,170)" stroke-width="3.2" vector-effect="non-scaling-stroke" stroke-linejoin="round" opacity="0.8"/>
<path d="M700,710 C702,714 716,724 720,740 C724,756 729,832 730,844" fill="none" stroke="rgb(108,100,78)" stroke-width="1.5" vector-effect="non-scaling-stroke" stroke-linejoin="round"/>
<path d="M820,620 C821,634 824,720 830,740 C836,760 862,778 870,790 C878,802 896,838 900,844" fill="none" stroke="rgb(210,200,170)" stroke-width="3.2" vector-effect="non-scaling-stroke" stroke-linejoin="round" opacity="0.8"/>
<path d="M820,620 C821,634 824,720 830,740 C836,760 862,778 870,790 C878,802 896,838 900,844" fill="none" stroke="rgb(108,100,78)" stroke-width="1.5" vector-effect="non-scaling-stroke" stroke-linejoin="round"/>
<path d="M490,700 C488,709 472,763 470,780 C468,797 470,837 470,844" fill="none" stroke="rgb(210,200,170)" stroke-width="3.2" vector-effect="non-scaling-stroke" stroke-linejoin="round" opacity="0.8"/>
<path d="M490,700 C488,709 472,763 470,780 C468,797 470,837 470,844" fill="none" stroke="rgb(108,100,78)" stroke-width="1.5" vector-effect="non-scaling-stroke" stroke-linejoin="round"/>
</g>
<g transform="translate(189,147) scale(0.1623)">
<path d="M130,120 C129,108 132,95 140,80 C148,65 172,-1 200,-12 C228,-23 356,-17 380,-12 C404,-7 409,19 410,30 C411,41 391,65 390,80 C389,95 394,140 400,160 C406,180 434,238 440,250 C446,262 451,259 450,265 C449,271 453,296 430,300 C407,304 272,300 250,300 C228,300 248,302 240,300 C232,298 190,294 180,280 C170,266 156,199 150,180 C144,161 131,132 130,120Z" fill="rgb(201,192,158)"/>
<path d="M240,300 C263,288 407,278 430,300 C453,322 452,470 440,490 C428,510 351,475 330,470 C309,465 272,458 260,450 C248,442 232,418 230,400 C228,382 217,312 240,300Z" fill="rgb(201,192,158)"/>
<path d="M650,250 C637,243 606,222 610,210 C614,198 671,162 680,150 C689,138 682,112 690,110 C698,108 737,131 750,130 C763,129 788,95 800,100 C812,105 843,150 850,170 C857,190 866,257 860,270 C854,283 816,280 800,280 C784,280 738,274 720,270 C702,266 663,257 650,250Z" fill="rgb(201,192,158)"/>
<path d="M910,280 C920,278 987,304 1000,310 C1013,316 1025,322 1020,330 C1015,338 968,373 960,380 C952,387 956,396 950,390 C944,384 915,343 910,330 C905,317 900,282 910,280Z" fill="rgb(201,192,158)"/>
<path d="M420,720 C421,700 459,632 480,620 C501,608 584,611 600,620 C616,629 620,684 620,700 C620,716 607,750 600,760 C593,770 569,780 560,790 C551,800 530,844 520,844 C510,844 482,804 470,790 C458,776 419,740 420,720Z" fill="rgb(201,192,158)"/>
<path d="M740,620 C734,614 709,584 710,570 C711,556 740,513 750,500 C760,487 785,455 800,460 C815,465 866,525 880,540 C894,555 934,581 920,590 C906,599 781,616 760,620 C739,624 746,626 740,620Z" fill="rgb(201,192,158)"/>
<path d="M1030,420 C1044,415 1116,388 1127,430 C1138,472 1137,748 1127,780 C1117,812 1059,721 1040,700 C1021,679 962,615 960,600 C958,585 1014,585 1020,570 C1026,555 1009,488 1010,470 C1011,452 1016,425 1030,420Z" fill="rgb(201,192,158)"/>
<path d="M200,-12 C193,-1 148,65 140,80 C132,95 148,112 130,120 C112,128 5,146 -12,150" fill="none" stroke="rgb(210,200,170)" stroke-width="3.2" vector-effect="non-scaling-stroke" stroke-linejoin="round" opacity="0.8"/>
<path d="M200,-12 C193,-1 148,65 140,80 C132,95 148,112 130,120 C112,128 5,146 -12,150" fill="none" stroke="rgb(108,100,78)" stroke-width="1.5" vector-effect="non-scaling-stroke" stroke-linejoin="round"/>
<path d="M130,120 C132,127 144,161 150,180 C156,199 170,266 180,280 C190,294 233,298 240,300" fill="none" stroke="rgb(210,200,170)" stroke-width="3.2" vector-effect="non-scaling-stroke" stroke-linejoin="round" opacity="0.8"/>
<path d="M130,120 C132,127 144,161 150,180 C156,199 170,266 180,280 C190,294 233,298 240,300" fill="none" stroke="rgb(108,100,78)" stroke-width="1.5" vector-effect="non-scaling-stroke" stroke-linejoin="round"/>
<path d="M380,-12 C384,-7 409,19 410,30 C411,41 391,65 390,80 C389,95 394,140 400,160 C406,180 434,238 440,250 C446,262 449,263 450,265" fill="none" stroke="rgb(210,200,170)" stroke-width="3.2" vector-effect="non-scaling-stroke" stroke-linejoin="round" opacity="0.8"/>
<path d="M380,-12 C384,-7 409,19 410,30 C411,41 391,65 390,80 C389,95 394,140 400,160 C406,180 434,238 440,250 C446,262 449,263 450,265" fill="none" stroke="rgb(108,100,78)" stroke-width="1.5" vector-effect="non-scaling-stroke" stroke-linejoin="round"/>
<path d="M450,265 C463,261 541,236 560,230 C579,224 600,208 610,210 C620,212 650,236 650,250 C650,264 616,317 610,330 C604,343 601,356 600,360" fill="none" stroke="rgb(210,200,170)" stroke-width="3.2" vector-effect="non-scaling-stroke" stroke-linejoin="round" opacity="0.8"/>
<path d="M450,265 C463,261 541,236 560,230 C579,224 600,208 610,210 C620,212 650,236 650,250 C650,264 616,317 610,330 C604,343 601,356 600,360" fill="none" stroke="rgb(108,100,78)" stroke-width="1.5" vector-effect="non-scaling-stroke" stroke-linejoin="round"/>
<path d="M450,265 C448,269 453,296 430,300 C407,304 272,300 250,300 C228,300 241,300 240,300" fill="none" stroke="rgb(210,200,170)" stroke-width="3.2" vector-effect="non-scaling-stroke" stroke-linejoin="round" opacity="0.8"/>
<path d="M450,265 C448,269 453,296 430,300 C407,304 272,300 250,300 C228,300 241,300 240,300" fill="none" stroke="rgb(108,100,78)" stroke-width="1.5" vector-effect="non-scaling-stroke" stroke-linejoin="round"/>
<path d="M240,300 C239,312 228,382 230,400 C232,418 248,442 260,450 C272,458 309,465 330,470 C351,475 427,488 440,490" fill="none" stroke="rgb(210,200,170)" stroke-width="3.2" vector-effect="non-scaling-stroke" stroke-linejoin="round" opacity="0.8"/>
<path d="M240,300 C239,312 228,382 230,400 C232,418 248,442 260,450 C272,458 309,465 330,470 C351,475 427,488 440,490" fill="none" stroke="rgb(108,100,78)" stroke-width="1.5" vector-effect="non-scaling-stroke" stroke-linejoin="round"/>
<path d="M428,300 L440,490" fill="none" stroke="rgb(210,200,170)" stroke-width="3.2" vector-effect="non-scaling-stroke" stroke-linejoin="round" opacity="0.8"/>
<path d="M428,300 L440,490" fill="none" stroke="rgb(108,100,78)" stroke-width="1.5" vector-effect="non-scaling-stroke" stroke-linejoin="round"/>
<path d="M650,250 C658,252 702,266 720,270 C738,274 782,280 800,280 C818,280 857,270 870,270 C883,270 905,279 910,280" fill="none" stroke="rgb(210,200,170)" stroke-width="3.2" vector-effect="non-scaling-stroke" stroke-linejoin="round" opacity="0.8"/>
<path d="M650,250 C658,252 702,266 720,270 C738,274 782,280 800,280 C818,280 857,270 870,270 C883,270 905,279 910,280" fill="none" stroke="rgb(108,100,78)" stroke-width="1.5" vector-effect="non-scaling-stroke" stroke-linejoin="round"/>
<path d="M700,-12 C699,2 692,91 690,110 C688,129 674,143 680,150 C686,157 732,172 740,170 C748,168 756,136 750,130 C744,124 697,121 690,120" fill="none" stroke="rgb(210,200,170)" stroke-width="3.2" vector-effect="non-scaling-stroke" stroke-linejoin="round" opacity="0.8"/>
<path d="M700,-12 C699,2 692,91 690,110 C688,129 674,143 680,150 C686,157 732,172 740,170 C748,168 756,136 750,130 C744,124 697,121 690,120" fill="none" stroke="rgb(108,100,78)" stroke-width="1.5" vector-effect="non-scaling-stroke" stroke-linejoin="round"/>
<path d="M750,130 C756,126 791,109 800,100 C809,91 829,63 830,50 C831,37 812,-5 810,-12" fill="none" stroke="rgb(210,200,170)" stroke-width="3.2" vector-effect="non-scaling-stroke" stroke-linejoin="round" opacity="0.8"/>
<path d="M750,130 C756,126 791,109 800,100 C809,91 829,63 830,50 C831,37 812,-5 810,-12" fill="none" stroke="rgb(108,100,78)" stroke-width="1.5" vector-effect="non-scaling-stroke" stroke-linejoin="round"/>
<path d="M800,100 C806,108 843,150 850,170 C857,190 859,258 860,270" fill="none" stroke="rgb(210,200,170)" stroke-width="3.2" vector-effect="non-scaling-stroke" stroke-linejoin="round" opacity="0.8"/>
<path d="M800,100 C806,108 843,150 850,170 C857,190 859,258 860,270" fill="none" stroke="rgb(108,100,78)" stroke-width="1.5" vector-effect="non-scaling-stroke" stroke-linejoin="round"/>
<path d="M740,170 L730,270" fill="none" stroke="rgb(210,200,170)" stroke-width="3.2" vector-effect="non-scaling-stroke" stroke-linejoin="round" opacity="0.8"/>
<path d="M740,170 L730,270" fill="none" stroke="rgb(108,100,78)" stroke-width="1.5" vector-effect="non-scaling-stroke" stroke-linejoin="round"/>
<path d="M910,280 C920,278 987,304 1000,310 C1013,316 1025,322 1020,330 C1015,338 968,373 960,380 C952,387 956,396 950,390 C944,384 915,343 910,330 C905,317 900,282 910,280Z" fill="none" stroke="rgb(210,200,170)" stroke-width="3.2" vector-effect="non-scaling-stroke" stroke-linejoin="round" opacity="0.8"/>
<path d="M910,280 C920,278 987,304 1000,310 C1013,316 1025,322 1020,330 C1015,338 968,373 960,380 C952,387 956,396 950,390 C944,384 915,343 910,330 C905,317 900,282 910,280Z" fill="none" stroke="rgb(108,100,78)" stroke-width="1.5" vector-effect="non-scaling-stroke" stroke-linejoin="round"/>
<path d="M800,280 C798,288 780,329 780,350 C780,371 804,442 800,460 C796,478 762,491 750,500 C738,509 712,546 700,540 C688,534 659,466 650,450 C641,434 626,410 620,400 C614,390 602,365 600,360" fill="none" stroke="rgb(210,200,170)" stroke-width="3.2" vector-effect="non-scaling-stroke" stroke-linejoin="round" opacity="0.8"/>
<path d="M800,280 C798,288 780,329 780,350 C780,371 804,442 800,460 C796,478 762,491 750,500 C738,509 712,546 700,540 C688,534 659,466 650,450 C641,434 626,410 620,400 C614,390 602,365 600,360" fill="none" stroke="rgb(108,100,78)" stroke-width="1.5" vector-effect="non-scaling-stroke" stroke-linejoin="round"/>
<path d="M800,460 C809,469 866,525 880,540 C894,555 911,583 920,590 C929,597 946,587 960,600 C974,613 1025,681 1040,700 C1055,719 1080,751 1090,760 C1100,769 1123,778 1127,780" fill="none" stroke="rgb(210,200,170)" stroke-width="3.2" vector-effect="non-scaling-stroke" stroke-linejoin="round" opacity="0.8"/>
<path d="M800,460 C809,469 866,525 880,540 C894,555 911,583 920,590 C929,597 946,587 960,600 C974,613 1025,681 1040,700 C1055,719 1080,751 1090,760 C1100,769 1123,778 1127,780" fill="none" stroke="rgb(108,100,78)" stroke-width="1.5" vector-effect="non-scaling-stroke" stroke-linejoin="round"/>
<path d="M700,540 C701,544 719,564 710,570 C701,576 633,584 620,590 C607,596 602,616 600,620" fill="none" stroke="rgb(210,200,170)" stroke-width="3.2" vector-effect="non-scaling-stroke" stroke-linejoin="round" opacity="0.8"/>
<path d="M700,540 C701,544 719,564 710,570 C701,576 633,584 620,590 C607,596 602,616 600,620" fill="none" stroke="rgb(108,100,78)" stroke-width="1.5" vector-effect="non-scaling-stroke" stroke-linejoin="round"/>
<path d="M710,570 C714,576 734,600 740,620 C746,640 758,714 760,740 C762,766 760,832 760,844" fill="none" stroke="rgb(210,200,170)" stroke-width="3.2" vector-effect="non-scaling-stroke" stroke-linejoin="round" opacity="0.8"/>
<path d="M710,570 C714,576 734,600 740,620 C746,640 758,714 760,740 C762,766 760,832 760,844" fill="none" stroke="rgb(108,100,78)" stroke-width="1.5" vector-effect="non-scaling-stroke" stroke-linejoin="round"/>
<path d="M600,620 C602,629 620,684 620,700 C620,716 607,750 600,760 C593,770 569,780 560,790 C551,800 525,838 520,844" fill="none" stroke="rgb(210,200,170)" stroke-width="3.2" vector-effect="non-scaling-stroke" stroke-linejoin="round" opacity="0.8"/>
<path d="M600,620 C602,629 620,684 620,700 C620,716 607,750 600,760 C593,770 569,780 560,790 C551,800 525,838 520,844" fill="none" stroke="rgb(108,100,78)" stroke-width="1.5" vector-effect="non-scaling-stroke" stroke-linejoin="round"/>
<path d="M480,620 C473,632 421,700 420,720 C419,740 458,776 470,790 C482,804 514,838 520,844" fill="none" stroke="rgb(210,200,170)" stroke-width="3.2" vector-effect="non-scaling-stroke" stroke-linejoin="round" opacity="0.8"/>
<path d="M480,620 C473,632 421,700 420,720 C419,740 458,776 470,790 C482,804 514,838 520,844" fill="none" stroke="rgb(108,100,78)" stroke-width="1.5" vector-effect="non-scaling-stroke" stroke-linejoin="round"/>
<path d="M420,720 C410,718 348,708 330,700 C312,692 282,666 270,650 C258,634 236,576 230,560 C224,544 221,516 220,510" fill="none" stroke="rgb(210,200,170)" stroke-width="3.2" vector-effect="non-scaling-stroke" stroke-linejoin="round" opacity="0.8"/>
<path d="M420,720 C410,718 348,708 330,700 C312,692 282,666 270,650 C258,634 236,576 230,560 C224,544 221,516 220,510" fill="none" stroke="rgb(108,100,78)" stroke-width="1.5" vector-effect="non-scaling-stroke" stroke-linejoin="round"/>
<path d="M220,510 C213,505 174,475 160,470 C146,465 112,474 100,470 C88,466 65,444 60,440" fill="none" stroke="rgb(210,200,170)" stroke-width="3.2" vector-effect="non-scaling-stroke" stroke-linejoin="round" opacity="0.8"/>
<path d="M220,510 C213,505 174,475 160,470 C146,465 112,474 100,470 C88,466 65,444 60,440" fill="none" stroke="rgb(108,100,78)" stroke-width="1.5" vector-effect="non-scaling-stroke" stroke-linejoin="round"/>
<path d="M-12,590 C-7,591 24,593 30,600 C36,607 45,638 40,650 C35,662 -6,694 -12,700" fill="none" stroke="rgb(210,200,170)" stroke-width="3.2" vector-effect="non-scaling-stroke" stroke-linejoin="round" opacity="0.8"/>
<path d="M-12,590 C-7,591 24,593 30,600 C36,607 45,638 40,650 C35,662 -6,694 -12,700" fill="none" stroke="rgb(108,100,78)" stroke-width="1.5" vector-effect="non-scaling-stroke" stroke-linejoin="round"/>
<path d="M-12,730 C-6,729 28,714 40,720 C52,726 82,766 90,780 C98,794 108,837 110,844" fill="none" stroke="rgb(210,200,170)" stroke-width="3.2" vector-effect="non-scaling-stroke" stroke-linejoin="round" opacity="0.8"/>
<path d="M-12,730 C-6,729 28,714 40,720 C52,726 82,766 90,780 C98,794 108,837 110,844" fill="none" stroke="rgb(108,100,78)" stroke-width="1.5" vector-effect="non-scaling-stroke" stroke-linejoin="round"/>
<path d="M1030,420 L1127,430" fill="none" stroke="rgb(210,200,170)" stroke-width="3.2" vector-effect="non-scaling-stroke" stroke-linejoin="round" opacity="0.8"/>
<path d="M1030,420 L1127,430" fill="none" stroke="rgb(108,100,78)" stroke-width="1.5" vector-effect="non-scaling-stroke" stroke-linejoin="round"/>
<path d="M1030,420 C1028,426 1011,452 1010,470 C1009,488 1026,555 1020,570 C1014,585 967,596 960,600" fill="none" stroke="rgb(210,200,170)" stroke-width="3.2" vector-effect="non-scaling-stroke" stroke-linejoin="round" opacity="0.8"/>
<path d="M1030,420 C1028,426 1011,452 1010,470 C1009,488 1026,555 1020,570 C1014,585 967,596 960,600" fill="none" stroke="rgb(108,100,78)" stroke-width="1.5" vector-effect="non-scaling-stroke" stroke-linejoin="round"/>
<path d="M910,10 C915,11 930,16 950,20 C970,24 1059,39 1080,40 C1101,41 1122,31 1127,30" fill="none" stroke="rgb(210,200,170)" stroke-width="3.2" vector-effect="non-scaling-stroke" stroke-linejoin="round" opacity="0.8"/>
<path d="M910,10 C915,11 930,16 950,20 C970,24 1059,39 1080,40 C1101,41 1122,31 1127,30" fill="none" stroke="rgb(108,100,78)" stroke-width="1.5" vector-effect="non-scaling-stroke" stroke-linejoin="round"/>
<path d="M40,300 C48,296 118,315 130,320 C142,325 148,336 140,340 C132,344 72,355 60,350 C48,345 32,304 40,300Z" fill="none" stroke="rgb(210,200,170)" stroke-width="3.2" vector-effect="non-scaling-stroke" stroke-linejoin="round" opacity="0.8"/>
<path d="M40,300 C48,296 118,315 130,320 C142,325 148,336 140,340 C132,344 72,355 60,350 C48,345 32,304 40,300Z" fill="none" stroke="rgb(108,100,78)" stroke-width="1.5" vector-effect="non-scaling-stroke" stroke-linejoin="round"/>
</g>
</g>
<g clip-path="url(#cb)">
<rect x="374" y="12" width="362.5" height="270" fill="rgb(244,222,172)"/>
<rect x="374" y="148.5" width="181" height="135" fill="rgb(248,235,196)"/>
<g transform="translate(374,12) scale(0.1623)">
<path d="M290,-25 C318,-44 438,-41 470,-25 C502,-9 488,49 480,70 C472,91 450,97 420,100 C390,103 322,111 300,90 C278,69 262,-6 290,-25Z" fill="rgb(248,235,196)" stroke="rgb(224,202,156)" stroke-width="0.8" vector-effect="non-scaling-stroke"/>
<path d="M-25,330 C-11,290 38,305 60,320 C82,335 98,395 110,420 C122,445 133,447 130,470 C127,493 116,545 90,560 C64,575 -6,598 -25,560 C-44,522 -39,370 -25,330Z" fill="rgb(248,235,196)" stroke="rgb(224,202,156)" stroke-width="0.8" vector-effect="non-scaling-stroke"/>
<path d="M130,480 C142,457 208,445 250,420 C292,395 352,347 380,330 C408,313 397,322 420,320 C443,318 500,303 520,320 C540,337 557,393 540,420 C523,447 447,463 420,480 C393,497 403,507 380,520 C357,533 313,553 280,560 C247,567 205,573 180,560 C155,547 118,503 130,480Z" fill="rgb(248,235,196)" stroke="rgb(224,202,156)" stroke-width="0.8" vector-effect="non-scaling-stroke"/>
<path d="M530,300 C547,285 602,287 640,290 C678,293 720,318 760,320 C800,322 858,283 880,300 C902,317 907,400 890,420 C873,440 808,423 780,420 C752,417 747,397 720,400 C693,403 647,433 620,440 C593,447 573,450 560,440 C547,430 545,403 540,380 C535,357 513,315 530,300Z" fill="rgb(248,235,196)" stroke="rgb(224,202,156)" stroke-width="0.8" vector-effect="non-scaling-stroke"/>
<path d="M990,410 C1003,393 1055,398 1080,400 C1105,402 1130,397 1140,420 C1150,443 1153,520 1140,540 C1127,560 1083,547 1060,540 C1037,533 1012,522 1000,500 C988,478 977,427 990,410Z" fill="rgb(248,235,196)" stroke="rgb(224,202,156)" stroke-width="0.8" vector-effect="non-scaling-stroke"/>
<path d="M420,540 C447,533 523,527 560,530 C597,533 607,552 640,560 C673,568 723,577 760,580 C797,583 830,577 860,580 C890,583 918,590 940,600 C962,610 987,623 990,640 C993,657 978,690 960,700 C942,710 923,698 880,700 C837,702 740,707 700,710 C660,713 663,728 640,720 C617,712 590,677 560,660 C530,643 487,635 460,620 C433,605 407,583 400,570 C393,557 393,547 420,540Z" fill="rgb(248,235,196)" stroke="rgb(224,202,156)" stroke-width="0.8" vector-effect="non-scaling-stroke"/>
<path d="M-25,720 C-1,696 78,710 120,710 C162,710 203,712 230,720 C257,728 268,737 280,760 C292,783 351,841 300,857 C249,873 29,880 -25,857 C-79,834 -49,744 -25,720Z" fill="rgb(248,235,196)" stroke="rgb(224,202,156)" stroke-width="0.8" vector-effect="non-scaling-stroke"/>
<path d="M1060,560 C1077,538 1127,537 1140,560 C1153,583 1157,678 1140,700 C1123,722 1053,713 1040,690 C1027,667 1043,582 1060,560Z" fill="rgb(248,235,196)" stroke="rgb(224,202,156)" stroke-width="0.8" vector-effect="non-scaling-stroke"/>
<path d="M1030,200 C1047,175 1122,158 1140,180 C1158,202 1157,305 1140,330 C1123,355 1058,352 1040,330 C1022,308 1013,225 1030,200Z" fill="rgb(248,235,196)" stroke="rgb(224,202,156)" stroke-width="0.8" vector-effect="non-scaling-stroke"/>
<path d="M-25,-25 C-11,-42 49,-39 60,-25 C71,-11 54,42 40,60 C26,78 -14,94 -25,80 C-36,66 -39,-8 -25,-25Z" fill="rgb(248,235,196)" stroke="rgb(224,202,156)" stroke-width="0.8" vector-effect="non-scaling-stroke"/>
</g>
<g transform="translate(555,12) scale(0.1623)">
<path d="M30,150 C62,133 130,100 170,100 C210,100 250,128 270,150 C290,172 295,212 290,230 C285,248 272,257 240,260 C208,263 144,253 100,250 C56,247 -4,248 -25,240 C-46,232 -34,215 -25,200 C-16,185 -2,167 30,150Z" fill="rgb(248,235,196)" stroke="rgb(224,202,156)" stroke-width="0.8" vector-effect="non-scaling-stroke"/>
<path d="M300,250 C315,240 377,237 420,240 C463,243 513,267 560,270 C607,273 670,255 700,260 C730,265 733,275 740,300 C747,325 747,387 740,410 C733,433 750,438 700,440 C650,442 493,430 440,420 C387,410 398,400 380,380 C362,360 343,322 330,300 C317,278 285,260 300,250Z" fill="rgb(248,235,196)" stroke="rgb(224,202,156)" stroke-width="0.8" vector-effect="non-scaling-stroke"/>
<path d="M-25,430 C-1,415 72,417 120,410 C168,403 217,395 260,390 C303,385 357,372 380,380 C403,388 413,425 400,440 C387,455 337,463 300,470 C263,477 220,475 180,480 C140,485 94,497 60,500 C26,503 -11,512 -25,500 C-39,488 -49,445 -25,430Z" fill="rgb(248,235,196)" stroke="rgb(224,202,156)" stroke-width="0.8" vector-effect="non-scaling-stroke"/>
<path d="M770,-25 C815,-42 1000,-39 1050,-25 C1100,-11 1078,39 1070,60 C1062,81 1028,80 1000,100 C972,120 927,160 900,180 C873,200 858,218 840,220 C822,222 800,213 790,190 C780,167 783,116 780,80 C777,44 725,-8 770,-25Z" fill="rgb(248,235,196)" stroke="rgb(224,202,156)" stroke-width="0.8" vector-effect="non-scaling-stroke"/>
<path d="M880,250 C898,237 980,247 1010,260 C1040,273 1048,308 1060,330 C1072,352 1090,372 1080,390 C1070,408 1020,427 1000,440 C980,453 972,472 960,470 C948,468 940,452 930,430 C920,408 908,370 900,340 C892,310 862,263 880,250Z" fill="rgb(248,235,196)" stroke="rgb(224,202,156)" stroke-width="0.8" vector-effect="non-scaling-stroke"/>
<path d="M300,520 C317,502 375,490 400,490 C425,490 437,505 450,520 C463,535 462,557 480,580 C498,603 540,635 560,660 C580,685 597,707 600,730 C603,753 590,779 580,800 C570,821 570,848 540,857 C510,866 430,873 400,857 C370,841 373,790 360,760 C347,730 330,707 320,680 C310,653 303,627 300,600 C297,573 283,538 300,520Z" fill="rgb(248,235,196)" stroke="rgb(224,202,156)" stroke-width="0.8" vector-effect="non-scaling-stroke"/>
<path d="M-25,560 C-6,533 52,560 90,570 C128,580 172,605 200,620 C228,635 240,647 260,660 C280,673 308,680 320,700 C332,720 347,763 330,780 C313,797 252,802 220,800 C188,798 167,780 140,770 C113,760 88,747 60,740 C32,733 -11,760 -25,730 C-39,700 -44,587 -25,560Z" fill="rgb(248,235,196)" stroke="rgb(224,202,156)" stroke-width="0.8" vector-effect="non-scaling-stroke"/>
<path d="M840,720 C857,690 900,683 920,680 C940,677 950,683 960,700 C970,717 980,754 980,780 C980,806 987,844 960,857 C933,870 840,880 820,857 C800,834 823,750 840,720Z" fill="rgb(248,235,196)" stroke="rgb(224,202,156)" stroke-width="0.8" vector-effect="non-scaling-stroke"/>
</g>
<g transform="translate(374,147) scale(0.1623)">
<path d="M130,-25 C167,-34 270,-36 300,-25 C330,-14 317,22 310,40 C303,58 273,65 260,80 C247,95 233,113 230,130 C227,147 248,172 240,180 C232,188 195,190 180,180 C165,170 163,137 150,120 C137,103 112,95 100,80 C88,65 75,48 80,30 C85,12 93,-16 130,-25Z" fill="rgb(244,222,172)" stroke="rgb(224,202,156)" stroke-width="0.8" vector-effect="non-scaling-stroke"/>
<path d="M350,-25 C397,-36 588,-38 640,-25 C692,-12 667,31 660,50 C653,69 630,82 600,90 C570,98 513,102 480,100 C447,98 420,90 400,80 C380,70 368,58 360,40 C352,22 303,-14 350,-25Z" fill="rgb(244,222,172)" stroke="rgb(224,202,156)" stroke-width="0.8" vector-effect="non-scaling-stroke"/>
<path d="M650,-25 C690,-38 862,-39 900,-25 C938,-11 897,39 880,60 C863,81 830,95 800,100 C770,105 723,98 700,90 C677,82 668,69 660,50 C652,31 610,-12 650,-25Z" fill="rgb(244,222,172)" stroke="rgb(224,202,156)" stroke-width="0.8" vector-effect="non-scaling-stroke"/>
<path d="M860,40 C883,22 953,27 1000,30 C1047,33 1117,30 1140,60 C1163,90 1163,185 1140,210 C1117,235 1040,213 1000,210 C960,207 923,202 900,190 C877,178 867,165 860,140 C853,115 837,58 860,40Z" fill="rgb(244,222,172)" stroke="rgb(224,202,156)" stroke-width="0.8" vector-effect="non-scaling-stroke"/>
<path d="M60,380 C73,363 108,330 140,330 C172,330 210,368 250,380 C290,392 347,403 380,400 C413,397 427,372 450,360 C473,348 492,335 520,330 C548,325 597,322 620,330 C643,338 660,357 660,380 C660,403 643,450 620,470 C597,490 548,485 520,500 C492,515 473,547 450,560 C427,573 413,582 380,580 C347,578 290,567 250,550 C210,533 172,500 140,480 C108,460 73,447 60,430 C47,413 47,397 60,380Z" fill="rgb(244,222,172)" stroke="rgb(224,202,156)" stroke-width="0.8" vector-effect="non-scaling-stroke"/>
<path d="M590,480 C607,458 658,463 680,470 C702,477 710,495 720,520 C730,545 743,590 740,620 C737,650 717,680 700,700 C683,720 657,737 640,740 C623,743 610,743 600,720 C590,697 582,640 580,600 C578,560 573,502 590,480Z" fill="rgb(244,222,172)" stroke="rgb(224,202,156)" stroke-width="0.8" vector-effect="non-scaling-stroke"/>
<path d="M790,360 C830,338 942,330 1000,330 C1058,330 1117,315 1140,360 C1163,405 1155,557 1140,600 C1125,643 1082,610 1050,620 C1018,630 983,657 950,660 C917,663 878,657 850,640 C822,623 795,590 780,560 C765,530 758,493 760,460 C762,427 750,382 790,360Z" fill="rgb(244,222,172)" stroke="rgb(224,202,156)" stroke-width="0.8" vector-effect="non-scaling-stroke"/>
<path d="M860,690 C907,660 1093,652 1140,680 C1187,708 1187,828 1140,857 C1093,886 907,885 860,857 C813,829 813,720 860,690Z" fill="rgb(244,222,172)" stroke="rgb(224,202,156)" stroke-width="0.8" vector-effect="non-scaling-stroke"/>
<path d="M-25,660 C-11,630 38,667 60,680 C82,693 100,710 110,740 C120,770 142,838 120,857 C98,876 -1,890 -25,857 C-49,824 -39,690 -25,660Z" fill="rgb(244,222,172)" stroke="rgb(224,202,156)" stroke-width="0.8" vector-effect="non-scaling-stroke"/>
</g>
<g transform="translate(555,147) scale(0.1623)">
<path d="M-25,180 C12,170 138,198 200,190 C262,182 300,152 350,130 C400,108 465,86 500,60 C535,34 483,-11 560,-25 C637,-39 890,-42 960,-25 C1030,-8 963,56 980,80 C997,104 1033,110 1060,120 C1087,130 1127,122 1140,140 C1153,158 1172,220 1140,230 C1108,240 1002,200 950,200 C898,200 855,213 830,230 C805,247 803,277 800,300 C797,323 817,360 810,370 C803,380 775,372 760,360 C745,348 730,317 720,300 C710,283 720,270 700,260 C680,250 637,235 600,240 C563,245 530,270 480,290 C430,310 347,342 300,360 C253,378 227,402 200,400 C173,398 163,373 140,350 C117,327 88,277 60,260 C32,243 -11,263 -25,250 C-39,237 -62,190 -25,180Z" fill="rgb(248,235,196)" stroke="rgb(224,202,156)" stroke-width="0.8" vector-effect="non-scaling-stroke"/>
<path d="M20,440 C38,428 93,405 120,400 C147,395 167,402 180,410 C193,418 210,437 200,450 C190,463 148,482 120,490 C92,498 48,503 30,500 C12,497 12,480 10,470 C8,460 2,452 20,440Z" fill="rgb(248,235,196)" stroke="rgb(224,202,156)" stroke-width="0.8" vector-effect="non-scaling-stroke"/>
<path d="M400,550 C410,535 453,528 480,530 C507,532 533,548 560,560 C587,572 597,593 640,600 C683,607 783,607 820,600 C857,593 847,573 860,560 C873,547 897,513 900,520 C903,527 890,570 880,600 C870,630 850,657 840,700 C830,743 893,831 820,857 C747,883 480,873 400,857 C320,841 343,790 340,760 C337,730 367,703 380,680 C393,657 417,642 420,620 C423,598 390,565 400,550Z" fill="rgb(248,235,196)" stroke="rgb(224,202,156)" stroke-width="0.8" vector-effect="non-scaling-stroke"/>
<path d="M1050,140 C1062,113 1125,87 1140,140 C1155,193 1150,408 1140,460 C1130,512 1092,477 1080,450 C1068,423 1075,352 1070,300 C1065,248 1038,167 1050,140Z" fill="rgb(248,235,196)" stroke="rgb(224,202,156)" stroke-width="0.8" vector-effect="non-scaling-stroke"/>
<path d="M-25,620 C-14,607 26,627 40,640 C54,653 71,687 60,700 C49,713 -11,733 -25,720 C-39,707 -36,633 -25,620Z" fill="rgb(248,235,196)" stroke="rgb(224,202,156)" stroke-width="0.8" vector-effect="non-scaling-stroke"/>
<path d="M230,740 C245,717 293,710 310,720 C327,730 335,777 330,800 C325,823 298,848 280,857 C262,866 228,876 220,857 C212,838 215,763 230,740Z" fill="rgb(248,235,196)" stroke="rgb(224,202,156)" stroke-width="0.8" vector-effect="non-scaling-stroke"/>
</g>
<g filter="url(#bdk)">
<g transform="translate(374,12) scale(0.1623)">
<ellipse cx="130" cy="490" rx="30" ry="18" fill="rgb(140,120,92)"/>
<ellipse cx="400" cy="520" rx="35" ry="20" fill="rgb(140,120,92)"/>
<ellipse cx="620" cy="540" rx="30" ry="12" fill="rgb(140,120,92)"/>
<ellipse cx="920" cy="470" rx="40" ry="35" fill="rgb(140,120,92)"/>
<ellipse cx="730" cy="415" rx="18" ry="10" fill="rgb(140,120,92)"/>
<ellipse cx="300" cy="590" rx="25" ry="15" fill="rgb(140,120,92)"/>
<ellipse cx="280" cy="690" rx="30" ry="20" fill="rgb(140,120,92)"/>
</g>
<g transform="translate(555,12) scale(0.1623)">
<ellipse cx="265" cy="262" rx="22" ry="14" fill="rgb(140,120,92)"/>
<ellipse cx="680" cy="232" rx="18" ry="12" fill="rgb(140,120,92)"/>
<ellipse cx="440" cy="420" rx="26" ry="18" fill="rgb(140,120,92)"/>
<ellipse cx="180" cy="515" rx="26" ry="22" fill="rgb(140,120,92)"/>
<ellipse cx="80" cy="530" rx="30" ry="26" fill="rgb(140,120,92)"/>
<ellipse cx="70" cy="750" rx="45" ry="22" fill="rgb(140,120,92)"/>
<ellipse cx="970" cy="515" rx="16" ry="36" fill="rgb(140,120,92)"/>
<ellipse cx="965" cy="680" rx="30" ry="18" fill="rgb(140,120,92)"/>
<ellipse cx="700" cy="440" rx="12" ry="8" fill="rgb(140,120,92)"/>
</g>
<g transform="translate(374,147) scale(0.1623)">
<ellipse cx="790" cy="300" rx="40" ry="22" fill="rgb(140,120,92)"/>
<ellipse cx="550" cy="690" rx="28" ry="28" fill="rgb(140,120,92)"/>
<ellipse cx="700" cy="410" rx="50" ry="25" fill="rgb(140,120,92)"/>
<ellipse cx="200" cy="120" rx="14" ry="10" fill="rgb(140,120,92)"/>
</g>
<g transform="translate(555,147) scale(0.1623)">
<ellipse cx="25" cy="150" rx="10" ry="30" fill="rgb(140,120,92)"/>
<ellipse cx="990" cy="70" rx="30" ry="30" fill="rgb(140,120,92)"/>
<ellipse cx="1060" cy="460" rx="12" ry="12" fill="rgb(140,120,92)"/>
<ellipse cx="220" cy="790" rx="25" ry="20" fill="rgb(140,120,92)"/>
</g>
</g>
</g>
<g clip-path="url(#cc)">
<rect x="746" y="12" width="361" height="270" fill="rgb(196,177,139)"/>
<g filter="url(#lsoft)">
<g transform="translate(746,12) scale(0.3247)">
<path d="M0,150 C10,132 42,145 60,150 C78,155 98,165 110,180 C122,195 132,226 130,240 C128,254 122,262 100,265 C78,268 17,279 0,260 C-17,241 -10,168 0,150Z" fill="rgb(198,187,153)" stroke="rgb(220,214,192)" stroke-width="1.6" vector-effect="non-scaling-stroke"/>
<path d="M0,150 C10,132 42,145 60,150 C78,155 98,165 110,180 C122,195 132,226 130,240 C128,254 122,262 100,265 C78,268 17,279 0,260 C-17,241 -10,168 0,150Z" fill="none" stroke="rgb(170,158,130)" stroke-width="0.6" vector-effect="non-scaling-stroke"/>
<path d="M430,0 C440,-10 478,-7 490,0 C502,7 503,25 500,40 C497,55 482,87 470,90 C458,93 437,75 430,60 C423,45 420,10 430,0Z" fill="rgb(198,187,153)" stroke="rgb(220,214,192)" stroke-width="1.6" vector-effect="non-scaling-stroke"/>
<path d="M430,0 C440,-10 478,-7 490,0 C502,7 503,25 500,40 C497,55 482,87 470,90 C458,93 437,75 430,60 C423,45 420,10 430,0Z" fill="none" stroke="rgb(170,158,130)" stroke-width="0.6" vector-effect="non-scaling-stroke"/>
<path d="M545,50 C559,40 608,37 625,40 C642,43 646,55 650,70 C654,85 658,117 650,130 C642,143 615,148 600,150 C585,152 570,148 560,140 C550,132 542,115 540,100 C538,85 531,60 545,50Z" fill="rgb(198,187,153)" stroke="rgb(220,214,192)" stroke-width="1.6" vector-effect="non-scaling-stroke"/>
<path d="M545,50 C559,40 608,37 625,40 C642,43 646,55 650,70 C654,85 658,117 650,130 C642,143 615,148 600,150 C585,152 570,148 560,140 C550,132 542,115 540,100 C538,85 531,60 545,50Z" fill="none" stroke="rgb(170,158,130)" stroke-width="0.6" vector-effect="non-scaling-stroke"/>
<path d="M680,70 C688,52 710,47 720,55 C730,63 740,98 740,120 C740,142 728,177 720,190 C712,203 698,205 690,200 C682,195 672,182 670,160 C668,138 672,88 680,70Z" fill="rgb(198,187,153)" stroke="rgb(220,214,192)" stroke-width="1.6" vector-effect="non-scaling-stroke"/>
<path d="M680,70 C688,52 710,47 720,55 C730,63 740,98 740,120 C740,142 728,177 720,190 C712,203 698,205 690,200 C682,195 672,182 670,160 C668,138 672,88 680,70Z" fill="none" stroke="rgb(170,158,130)" stroke-width="0.6" vector-effect="non-scaling-stroke"/>
<path d="M850,0 C870,-7 957,-7 980,0 C1003,7 1003,23 990,40 C977,57 920,92 900,100 C880,108 877,100 870,90 C863,80 863,55 860,40 C857,25 830,7 850,0Z" fill="rgb(198,187,153)" stroke="rgb(220,214,192)" stroke-width="1.6" vector-effect="non-scaling-stroke"/>
<path d="M850,0 C870,-7 957,-7 980,0 C1003,7 1003,23 990,40 C977,57 920,92 900,100 C880,108 877,100 870,90 C863,80 863,55 860,40 C857,25 830,7 850,0Z" fill="none" stroke="rgb(170,158,130)" stroke-width="0.6" vector-effect="non-scaling-stroke"/>
<path d="M980,0 C1001,-8 1092,-15 1115,0 C1138,15 1126,73 1115,90 C1104,107 1071,107 1050,100 C1029,93 1002,67 990,50 C978,33 959,8 980,0Z" fill="rgb(198,187,153)" stroke="rgb(220,214,192)" stroke-width="1.6" vector-effect="non-scaling-stroke"/>
<path d="M980,0 C1001,-8 1092,-15 1115,0 C1138,15 1126,73 1115,90 C1104,107 1071,107 1050,100 C1029,93 1002,67 990,50 C978,33 959,8 980,0Z" fill="none" stroke="rgb(170,158,130)" stroke-width="0.6" vector-effect="non-scaling-stroke"/>
<path d="M150,270 C168,263 220,275 250,280 C280,285 315,290 330,300 C345,310 342,327 340,340 C338,353 330,370 320,380 C310,390 297,397 280,400 C263,403 240,403 220,400 C200,397 173,393 160,380 C147,367 142,338 140,320 C138,302 132,277 150,270Z" fill="rgb(198,187,153)" stroke="rgb(220,214,192)" stroke-width="1.6" vector-effect="non-scaling-stroke"/>
<path d="M150,270 C168,263 220,275 250,280 C280,285 315,290 330,300 C345,310 342,327 340,340 C338,353 330,370 320,380 C310,390 297,397 280,400 C263,403 240,403 220,400 C200,397 173,393 160,380 C147,367 142,338 140,320 C138,302 132,277 150,270Z" fill="none" stroke="rgb(170,158,130)" stroke-width="0.6" vector-effect="non-scaling-stroke"/>
<path d="M460,280 C480,272 528,288 560,290 C592,292 610,292 650,290 C690,288 770,278 800,280 C830,282 820,287 830,300 C840,313 857,342 860,360 C863,378 860,400 850,410 C840,420 825,422 800,420 C775,418 740,402 700,400 C660,398 602,412 560,410 C518,408 470,402 450,390 C430,378 438,358 440,340 C442,322 440,288 460,280Z" fill="rgb(198,187,153)" stroke="rgb(220,214,192)" stroke-width="1.6" vector-effect="non-scaling-stroke"/>
<path d="M460,280 C480,272 528,288 560,290 C592,292 610,292 650,290 C690,288 770,278 800,280 C830,282 820,287 830,300 C840,313 857,342 860,360 C863,378 860,400 850,410 C840,420 825,422 800,420 C775,418 740,402 700,400 C660,398 602,412 560,410 C518,408 470,402 450,390 C430,378 438,358 440,340 C442,322 440,288 460,280Z" fill="none" stroke="rgb(170,158,130)" stroke-width="0.6" vector-effect="non-scaling-stroke"/>
<path d="M800,400 C830,390 965,390 1000,400 C1035,410 1012,447 1010,460 C1008,473 1012,478 990,480 C968,482 908,473 880,470 C852,467 833,472 820,460 C807,448 770,410 800,400Z" fill="rgb(198,187,153)" stroke="rgb(220,214,192)" stroke-width="1.6" vector-effect="non-scaling-stroke"/>
<path d="M800,400 C830,390 965,390 1000,400 C1035,410 1012,447 1010,460 C1008,473 1012,478 990,480 C968,482 908,473 880,470 C852,467 833,472 820,460 C807,448 770,410 800,400Z" fill="none" stroke="rgb(170,158,130)" stroke-width="0.6" vector-effect="non-scaling-stroke"/>
<path d="M1000,420 C1019,413 1096,412 1115,420 C1134,428 1126,460 1115,470 C1104,480 1069,482 1050,480 C1031,478 1008,470 1000,460 C992,450 981,427 1000,420Z" fill="rgb(198,187,153)" stroke="rgb(220,214,192)" stroke-width="1.6" vector-effect="non-scaling-stroke"/>
<path d="M1000,420 C1019,413 1096,412 1115,420 C1134,428 1126,460 1115,470 C1104,480 1069,482 1050,480 C1031,478 1008,470 1000,460 C992,450 981,427 1000,420Z" fill="none" stroke="rgb(170,158,130)" stroke-width="0.6" vector-effect="non-scaling-stroke"/>
<path d="M750,470 C757,462 790,458 800,470 C810,482 813,525 810,540 C807,555 788,563 780,560 C772,557 765,535 760,520 C755,505 743,478 750,470Z" fill="rgb(198,187,153)" stroke="rgb(220,214,192)" stroke-width="1.6" vector-effect="non-scaling-stroke"/>
<path d="M750,470 C757,462 790,458 800,470 C810,482 813,525 810,540 C807,555 788,563 780,560 C772,557 765,535 760,520 C755,505 743,478 750,470Z" fill="none" stroke="rgb(170,158,130)" stroke-width="0.6" vector-effect="non-scaling-stroke"/>
<path d="M0,520 C18,508 73,527 110,530 C147,533 198,528 220,540 C242,552 240,583 240,600 C240,617 235,633 220,640 C205,647 172,647 150,640 C128,633 112,603 90,600 C68,597 35,620 20,620 C5,620 3,617 0,600 C-3,583 -18,532 0,520Z" fill="rgb(198,187,153)" stroke="rgb(220,214,192)" stroke-width="1.6" vector-effect="non-scaling-stroke"/>
<path d="M0,520 C18,508 73,527 110,530 C147,533 198,528 220,540 C242,552 240,583 240,600 C240,617 235,633 220,640 C205,647 172,647 150,640 C128,633 112,603 90,600 C68,597 35,620 20,620 C5,620 3,617 0,600 C-3,583 -18,532 0,520Z" fill="none" stroke="rgb(170,158,130)" stroke-width="0.6" vector-effect="non-scaling-stroke"/>
<path d="M0,640 C10,620 43,630 60,640 C77,650 95,680 100,700 C105,720 102,748 90,760 C78,772 45,770 30,770 C15,770 5,782 0,760 C-5,738 -10,660 0,640Z" fill="rgb(198,187,153)" stroke="rgb(220,214,192)" stroke-width="1.6" vector-effect="non-scaling-stroke"/>
<path d="M0,640 C10,620 43,630 60,640 C77,650 95,680 100,700 C105,720 102,748 90,760 C78,772 45,770 30,770 C15,770 5,782 0,760 C-5,738 -10,660 0,640Z" fill="none" stroke="rgb(170,158,130)" stroke-width="0.6" vector-effect="non-scaling-stroke"/>
<path d="M150,640 C167,630 205,637 230,640 C255,643 285,647 300,660 C315,673 320,702 320,720 C320,738 317,760 300,770 C283,780 247,782 220,780 C193,778 155,773 140,760 C125,747 128,720 130,700 C132,680 133,650 150,640Z" fill="rgb(198,187,153)" stroke="rgb(220,214,192)" stroke-width="1.6" vector-effect="non-scaling-stroke"/>
<path d="M150,640 C167,630 205,637 230,640 C255,643 285,647 300,660 C315,673 320,702 320,720 C320,738 317,760 300,770 C283,780 247,782 220,780 C193,778 155,773 140,760 C125,747 128,720 130,700 C132,680 133,650 150,640Z" fill="none" stroke="rgb(170,158,130)" stroke-width="0.6" vector-effect="non-scaling-stroke"/>
<path d="M400,540 C412,527 463,530 480,540 C497,550 503,583 500,600 C497,617 475,637 460,640 C445,643 420,637 410,620 C400,603 388,553 400,540Z" fill="rgb(198,187,153)" stroke="rgb(220,214,192)" stroke-width="1.6" vector-effect="non-scaling-stroke"/>
<path d="M400,540 C412,527 463,530 480,540 C497,550 503,583 500,600 C497,617 475,637 460,640 C445,643 420,637 410,620 C400,603 388,553 400,540Z" fill="none" stroke="rgb(170,158,130)" stroke-width="0.6" vector-effect="non-scaling-stroke"/>
<path d="M390,640 C400,627 438,627 450,640 C462,653 462,695 460,720 C458,745 450,778 440,790 C430,802 408,802 400,790 C392,778 392,745 390,720 C388,695 380,653 390,640Z" fill="rgb(198,187,153)" stroke="rgb(220,214,192)" stroke-width="1.6" vector-effect="non-scaling-stroke"/>
<path d="M390,640 C400,627 438,627 450,640 C462,653 462,695 460,720 C458,745 450,778 440,790 C430,802 408,802 400,790 C392,778 392,745 390,720 C388,695 380,653 390,640Z" fill="none" stroke="rgb(170,158,130)" stroke-width="0.6" vector-effect="non-scaling-stroke"/>
<path d="M1020,560 C1039,550 1099,533 1115,560 C1131,587 1124,692 1115,720 C1106,748 1074,737 1060,730 C1046,723 1040,698 1030,680 C1020,662 1002,640 1000,620 C998,600 1001,570 1020,560Z" fill="rgb(198,187,153)" stroke="rgb(220,214,192)" stroke-width="1.6" vector-effect="non-scaling-stroke"/>
<path d="M1020,560 C1039,550 1099,533 1115,560 C1131,587 1124,692 1115,720 C1106,748 1074,737 1060,730 C1046,723 1040,698 1030,680 C1020,662 1002,640 1000,620 C998,600 1001,570 1020,560Z" fill="none" stroke="rgb(170,158,130)" stroke-width="0.6" vector-effect="non-scaling-stroke"/>
<path d="M560,740 C575,724 633,724 650,740 C667,756 675,818 660,834 C645,850 577,850 560,834 C543,818 545,756 560,740Z" fill="rgb(198,187,153)" stroke="rgb(220,214,192)" stroke-width="1.6" vector-effect="non-scaling-stroke"/>
<path d="M560,740 C575,724 633,724 650,740 C667,756 675,818 660,834 C645,850 577,850 560,834 C543,818 545,756 560,740Z" fill="none" stroke="rgb(170,158,130)" stroke-width="0.6" vector-effect="non-scaling-stroke"/>
<path d="M0,770 C13,759 63,759 80,770 C97,781 113,823 100,834 C87,845 17,845 0,834 C-17,823 -13,781 0,770Z" fill="rgb(198,187,153)" stroke="rgb(220,214,192)" stroke-width="1.6" vector-effect="non-scaling-stroke"/>
<path d="M0,770 C13,759 63,759 80,770 C97,781 113,823 100,834 C87,845 17,845 0,834 C-17,823 -13,781 0,770Z" fill="none" stroke="rgb(170,158,130)" stroke-width="0.6" vector-effect="non-scaling-stroke"/>
<path d="M130,200 C142,200 182,243 200,260 C218,277 240,290 240,300 C240,310 215,320 200,320 C185,320 162,310 150,300 C138,290 133,277 130,260 C127,243 118,200 130,200Z" fill="rgb(196,177,139)"/>
<path d="M370,150 C387,132 433,135 460,140 C487,145 523,160 530,180 C537,200 510,238 500,260 C490,282 490,303 470,310 C450,317 398,310 380,300 C362,290 362,275 360,250 C358,225 353,168 370,150Z" fill="rgb(196,177,139)"/>
<path d="M720,60 C733,40 782,55 800,70 C818,85 823,122 830,150 C837,178 847,219 840,240 C833,261 808,272 790,275 C772,278 742,274 730,260 C718,246 722,223 720,190 C718,157 707,80 720,60Z" fill="rgb(196,177,139)"/>
<path d="M950,90 C967,78 1013,70 1030,80 C1047,90 1048,125 1050,150 C1052,175 1052,213 1040,230 C1028,247 993,255 980,250 C967,245 968,217 960,200 C952,183 932,168 930,150 C928,132 933,102 950,90Z" fill="rgb(196,177,139)"/>
<path d="M310,340 C320,328 358,323 370,330 C382,337 383,367 380,380 C377,393 362,407 350,410 C338,413 317,412 310,400 C303,388 300,352 310,340Z" fill="rgb(196,177,139)"/>
<path d="M200,640 C207,632 233,632 240,640 C247,648 247,682 240,690 C233,698 207,698 200,690 C193,682 193,648 200,640Z" fill="rgb(196,177,139)"/>
</g></g>
<g filter="url(#dk)">
<g transform="translate(746,12) scale(0.3247)">
<path d="M0,0 C72,-25 357,-7 430,0 C503,7 445,27 440,40 C435,53 410,63 400,80 C390,97 385,120 380,140 C375,160 373,180 370,200 C367,220 367,245 360,260 C353,275 347,288 330,290 C313,292 282,280 260,275 C238,270 218,271 200,260 C182,249 165,223 150,210 C135,197 125,190 110,180 C95,170 78,155 60,150 C42,145 10,175 0,150 C-10,125 -72,25 0,0Z" fill="rgb(165,149,120)"/>
<path d="M490,0 C527,-3 678,-7 720,0 C762,7 740,31 740,40 C740,49 730,50 720,55 C710,60 690,62 680,70 C670,78 665,100 660,100 C655,100 656,80 650,70 C644,60 642,43 625,40 C608,37 561,42 545,50 C529,58 536,88 530,90 C524,92 515,72 510,60 C505,48 503,30 500,20 C497,10 453,3 490,0Z" fill="rgb(165,149,120)"/>
<path d="M500,160 C512,145 537,145 560,150 C583,155 618,178 640,190 C662,202 677,208 690,220 C703,232 720,248 720,260 C720,272 710,285 690,290 C670,295 628,292 600,290 C572,288 538,288 520,280 C502,272 493,260 490,240 C487,220 488,175 500,160Z" fill="rgb(165,149,120)"/>
<path d="M760,0 C773,-7 833,-7 850,0 C867,7 855,22 860,40 C865,58 867,93 880,110 C893,127 927,125 940,140 C953,155 958,182 960,200 C962,218 960,238 950,250 C940,262 917,272 900,270 C883,268 862,258 850,240 C838,222 838,185 830,160 C822,135 810,110 800,90 C790,70 777,55 770,40 C763,25 747,7 760,0Z" fill="rgb(165,149,120)"/>
<path d="M1040,100 C1052,77 1102,37 1115,90 C1128,143 1134,365 1115,420 C1096,475 1026,427 1000,420 C974,413 970,397 960,380 C950,363 940,338 940,320 C940,302 950,282 960,270 C970,258 987,257 1000,250 C1013,243 1033,255 1040,230 C1047,205 1028,123 1040,100Z" fill="rgb(165,149,120)"/>
<path d="M0,260 C17,234 77,258 100,265 C123,272 132,278 140,300 C148,322 152,380 150,400 C148,420 155,417 130,420 C105,423 22,447 0,420 C-22,393 -17,286 0,260Z" fill="rgb(165,149,120)"/>
<path d="M860,250 C878,235 943,235 960,260 C977,285 975,373 960,400 C945,427 888,428 870,420 C852,412 852,378 850,350 C848,322 842,265 860,250Z" fill="rgb(165,149,120)"/>
<path d="M0,420 C25,407 117,423 150,420 C183,417 185,398 200,400 C215,402 232,413 240,430 C248,447 252,482 250,500 C248,518 247,533 230,540 C213,547 178,543 150,540 C122,537 85,527 60,520 C35,513 10,517 0,500 C-10,483 -25,433 0,420Z" fill="rgb(165,149,120)"/>
<path d="M400,390 C412,378 448,378 470,380 C492,382 517,390 530,400 C543,410 550,425 550,440 C550,455 543,478 530,490 C517,502 488,508 470,510 C452,512 432,510 420,500 C408,490 403,468 400,450 C397,432 388,402 400,390Z" fill="rgb(165,149,120)"/>
<path d="M550,420 C558,412 585,408 600,410 C615,412 632,418 640,430 C648,442 653,467 650,480 C647,493 633,507 620,510 C607,513 582,508 570,500 C558,492 553,473 550,460 C547,447 542,428 550,420Z" fill="rgb(165,149,120)"/>
<path d="M1050,480 C1062,465 1104,457 1115,470 C1126,483 1128,545 1115,560 C1102,575 1051,573 1040,560 C1029,547 1038,495 1050,480Z" fill="rgb(165,149,120)"/>
<path d="M820,500 C837,487 897,485 920,490 C943,495 957,513 960,530 C963,547 953,578 940,590 C927,602 900,603 880,600 C860,597 830,587 820,570 C810,553 803,513 820,500Z" fill="rgb(165,149,120)"/>
<path d="M60,590 C73,583 120,592 140,600 C160,608 175,623 180,640 C185,657 180,687 170,700 C160,713 135,720 120,720 C105,720 90,713 80,700 C70,687 63,658 60,640 C57,622 47,597 60,590Z" fill="rgb(165,149,120)"/>
<path d="M460,600 C470,585 497,573 520,570 C543,567 580,575 600,580 C620,585 637,583 640,600 C643,617 633,663 620,680 C607,697 580,698 560,700 C540,702 517,697 500,690 C483,683 467,675 460,660 C453,645 450,615 460,600Z" fill="rgb(165,149,120)"/>
<path d="M580,520 C597,505 670,507 700,510 C730,513 743,532 760,540 C777,548 783,553 800,560 C817,567 835,575 860,580 C885,585 927,583 950,590 C973,597 988,605 1000,620 C1012,635 1023,663 1020,680 C1017,697 1000,713 980,720 C960,727 930,723 900,720 C870,717 833,705 800,700 C767,695 727,697 700,690 C673,683 657,675 640,660 C623,645 610,623 600,600 C590,577 563,535 580,520Z" fill="rgb(165,149,120)"/>
<path d="M650,720 C675,701 765,717 800,720 C835,723 850,721 860,740 C870,759 895,818 860,834 C825,850 685,853 650,834 C615,815 625,739 650,720Z" fill="rgb(165,149,120)"/>
<path d="M1040,720 C1052,703 1102,711 1115,730 C1128,749 1128,817 1115,834 C1102,851 1052,853 1040,834 C1028,815 1028,737 1040,720Z" fill="rgb(165,149,120)"/>
<path d="M80,740 C88,724 120,724 130,740 C140,756 148,818 140,834 C132,850 90,850 80,834 C70,818 72,756 80,740Z" fill="rgb(165,149,120)"/>
<path d="M250,440 C255,422 285,418 300,420 C315,422 332,435 340,450 C348,465 353,495 350,510 C347,525 333,537 320,540 C307,543 282,547 270,530 C258,513 245,458 250,440Z" fill="rgb(165,149,120)"/>
</g></g>
<g filter="url(#lsoft)">
<g transform="translate(746,12) scale(0.3247)">
<path d="M560,190 C575,182 630,190 650,200 C670,210 685,238 680,250 C675,262 640,275 620,275 C600,275 570,264 560,250 C550,236 545,198 560,190Z" fill="rgb(196,177,139)" opacity="0.9"/>
<path d="M650,420 C668,408 735,407 760,410 C785,413 793,425 800,440 C807,455 807,485 800,500 C793,515 780,527 760,530 C740,533 698,528 680,520 C662,512 655,497 650,480 C645,463 632,432 650,420Z" fill="rgb(196,177,139)" opacity="0.9"/>
<path d="M830,480 C855,472 965,480 1000,490 C1035,500 1035,523 1040,540 C1045,557 1042,580 1030,590 C1018,600 992,602 970,600 C948,598 920,590 900,580 C880,570 862,557 850,540 C838,523 805,488 830,480Z" fill="rgb(196,177,139)" opacity="0.9"/>
<path d="M300,560 C317,545 378,540 400,550 C422,560 427,595 430,620 C433,645 427,677 420,700 C413,723 393,738 390,760 C387,782 415,822 400,834 C385,846 317,846 300,834 C283,822 297,782 300,760 C303,738 320,720 320,700 C320,680 303,663 300,640 C297,617 283,575 300,560Z" fill="rgb(196,177,139)" opacity="0.9"/>
<path d="M450,650 C470,640 538,652 560,660 C582,668 580,683 580,700 C580,717 577,750 560,760 C543,770 500,767 480,760 C460,753 445,738 440,720 C435,702 430,660 450,650Z" fill="rgb(196,177,139)" opacity="0.9"/>
<path d="M860,720 C883,701 970,713 1000,720 C1030,727 1037,741 1040,760 C1043,779 1050,822 1020,834 C990,846 887,853 860,834 C833,815 837,739 860,720Z" fill="rgb(196,177,139)" opacity="0.9"/>
<path d="M460,760 C477,748 543,748 560,760 C577,772 577,822 560,834 C543,846 477,846 460,834 C443,822 443,772 460,760Z" fill="rgb(196,177,139)" opacity="0.9"/>
<path d="M130,780 C158,771 272,771 300,780 C328,789 328,825 300,834 C272,843 158,843 130,834 C102,825 102,789 130,780Z" fill="rgb(196,177,139)" opacity="0.9"/>
</g></g>
</g>
<line x1="200" y1="248.7" x2="336.6" y2="248.7" stroke="#4a4030" stroke-width="1.6"/>
<text x="269" y="246" text-anchor="middle" style="font-family:'Liberation Sans',sans-serif;font-size:7px;fill:#3a3020">80 µm</text>
<line x1="567.2" y1="248.7" x2="702.8" y2="248.7" stroke="#4a4030" stroke-width="1.6"/>
<text x="635" y="246" text-anchor="middle" style="font-family:'Liberation Sans',sans-serif;font-size:7px;fill:#3a3020">80 µm</text>
<line x1="938" y1="248.7" x2="1074.2" y2="248.7" stroke="#4a4030" stroke-width="1.6"/>
<text x="1006" y="246" text-anchor="middle" style="font-family:'Liberation Sans',sans-serif;font-size:7px;fill:#3a3020">80 µm</text>
<text class="lab" x="18.4" y="61" textLength="151.5" lengthAdjust="spacingAndGlyphs">(a)650°C-2h</text>
<text class="lab" x="388.9" y="56.3" textLength="152.8" lengthAdjust="spacingAndGlyphs">(b)700°C-2h</text>
<text class="lab" x="756.8" y="56.3" textLength="150.2" lengthAdjust="spacingAndGlyphs">(c)750°C-2h</text>
<path d="M147.7,835.0 L148.6,835.6 L149.6,835.9 L150.5,835.5 L151.5,835.7 L152.4,835.6 L153.4,835.9 L154.3,835.9 L155.2,835.7 L156.2,834.9 L157.1,834.6 L158.1,835.4 L159.0,835.5 L159.9,835.6 L160.9,835.8 L161.8,835.7 L162.8,835.3 L163.7,835.3 L164.7,835.2 L165.6,835.2 L166.5,835.4 L167.5,835.0 L168.4,834.8 L169.4,835.3 L170.3,835.4 L171.3,835.2 L172.2,834.7 L173.1,834.9 L174.1,835.4 L175.0,835.1 L176.0,835.2 L176.9,835.5 L177.8,835.1 L178.8,834.9 L179.7,835.1 L180.7,835.0 L181.6,835.7 L182.6,835.6 L183.5,835.2 L184.4,835.8 L185.4,835.5 L186.3,834.9 L187.3,835.1 L188.2,835.5 L189.1,835.4 L190.1,835.1 L191.0,834.8 L192.0,834.6 L192.9,834.9 L193.9,834.8 L194.8,834.9 L195.7,835.3 L196.7,835.1 L197.6,834.8 L198.6,835.0 L199.5,835.2 L200.5,835.1 L201.4,835.5 L202.3,835.4 L203.3,834.7 L204.2,835.2 L205.2,835.3 L206.1,835.2 L207.0,835.0 L208.0,835.2 L208.9,835.6 L209.9,835.0 L210.8,834.5 L211.8,835.1 L212.7,835.5 L213.6,834.9 L214.6,834.9 L215.5,834.6 L216.5,834.8 L217.4,835.0 L218.4,835.0 L219.3,834.7 L220.2,834.5 L221.2,834.9 L222.1,835.3 L223.1,834.8 L224.0,834.2 L224.9,834.4 L225.9,834.3 L226.8,834.4 L227.8,834.8 L228.7,835.0 L229.7,835.1 L230.6,834.6 L231.5,834.7 L232.5,835.1 L233.4,834.9 L234.4,834.7 L235.3,834.5 L236.2,834.8 L237.2,835.3 L238.1,835.0 L239.1,834.3 L240.0,834.2 L241.0,834.4 L241.9,834.6 L242.8,834.6 L243.8,834.5 L244.7,834.4 L245.7,834.5 L246.6,834.7 L247.6,834.5 L248.5,834.4 L249.4,834.3 L250.4,833.9 L251.3,833.6 L252.3,833.8 L253.2,834.6 L254.1,835.0 L255.1,834.6 L256.0,834.4 L257.0,834.8 L257.9,834.6 L258.9,833.9 L259.8,834.4 L260.7,834.9 L261.7,834.7 L262.6,834.5 L263.6,834.2 L264.5,833.7 L265.5,833.9 L266.4,834.1 L267.3,834.1 L268.3,833.8 L269.2,833.7 L270.2,833.8 L271.1,834.1 L272.0,834.5 L273.0,834.4 L273.9,834.0 L274.9,833.7 L275.8,834.1 L276.8,834.3 L277.7,834.1 L278.6,834.1 L279.6,834.4 L280.5,834.2 L281.5,833.4 L282.4,833.5 L283.3,834.2 L284.3,834.4 L285.2,834.5 L286.2,834.2 L287.1,833.7 L288.1,833.8 L289.0,833.9 L289.9,833.8 L290.9,833.7 L291.8,834.0 L292.8,834.1 L293.7,833.7 L294.7,833.7 L295.6,833.8 L296.5,833.7 L297.5,833.6 L298.4,833.2 L299.4,833.1 L300.3,833.3 L301.2,832.9 L302.2,832.7 L303.1,832.4 L304.1,833.0 L305.0,833.1 L306.0,832.7 L306.9,832.8 L307.8,832.4 L308.8,832.1 L309.7,832.0 L310.7,832.1 L311.6,831.9 L312.6,832.0 L313.5,832.3 L314.4,832.0 L315.4,832.0 L316.3,831.6 L317.3,831.2 L318.2,831.1 L319.1,831.3 L320.1,831.8 L321.0,831.7 L322.0,831.4 L322.9,831.5 L323.9,831.5 L324.8,831.3 L325.7,830.9 L326.7,831.0 L327.6,831.0 L328.6,830.9 L329.5,831.3 L330.4,831.3 L331.4,831.2 L332.3,831.0 L333.3,830.4 L334.2,830.3 L335.2,830.3 L336.1,829.9 L337.0,829.9 L338.0,830.1 L338.9,830.2 L339.9,830.5 L340.8,830.2 L341.8,830.1 L342.7,830.1 L343.6,829.6 L344.6,829.4 L345.5,829.3 L346.5,829.7 L347.4,829.5 L348.3,829.3 L349.3,829.3 L350.2,829.1 L351.2,829.0 L352.1,829.0 L353.1,829.0 L354.0,828.9 L354.9,829.1 L355.9,829.0 L356.8,828.7 L357.8,828.3 L358.7,827.6 L359.7,828.2 L360.6,828.3 L361.5,827.7 L362.5,827.8 L363.4,827.5 L364.4,827.2 L365.3,827.5 L366.2,827.3 L367.2,826.7 L368.1,826.5 L369.1,826.5 L370.0,826.2 L371.0,825.6 L371.9,825.8 L372.8,825.9 L373.8,825.4 L374.7,825.2 L375.7,824.5 L376.6,824.1 L377.5,824.5 L378.5,824.5 L379.4,824.0 L380.4,823.1 L381.3,822.8 L382.3,823.0 L383.2,822.6 L384.1,822.3 L385.1,821.6 L386.0,821.3 L387.0,821.3 L387.9,820.8 L388.9,820.4 L389.8,820.3 L390.7,819.6 L391.7,818.9 L392.6,818.7 L393.6,818.3 L394.5,817.9 L395.4,816.9 L396.4,815.8 L397.3,815.0 L398.3,814.1 L399.2,813.2 L400.2,812.4 L401.1,811.2 L402.0,809.8 L403.0,808.6 L403.9,806.8 L404.9,804.6 L405.8,802.5 L406.8,800.2 L407.7,796.9 L408.6,792.6 L409.6,788.0 L410.5,782.6 L411.5,775.1 L412.4,765.2 L413.3,753.4 L414.3,738.1 L415.2,718.0 L416.2,694.6 L417.1,666.7 L418.1,635.9 L419.0,607.0 L419.9,585.2 L420.9,577.8 L421.8,581.2 L422.8,589.2 L423.7,602.5 L424.6,618.6 L425.6,635.9 L426.5,653.9 L427.5,670.9 L428.4,687.6 L429.4,702.3 L430.3,714.8 L431.2,726.4 L432.2,736.8 L433.1,745.2 L434.1,752.5 L435.0,759.5 L436.0,765.0 L436.9,769.1 L437.8,773.1 L438.8,776.4 L439.7,778.9 L440.7,781.5 L441.6,784.2 L442.5,786.2 L443.5,787.4 L444.4,788.2 L445.4,789.1 L446.3,790.0 L447.3,790.9 L448.2,791.5 L449.1,791.9 L450.1,792.3 L451.0,792.6 L452.0,792.9 L452.9,792.7 L453.9,792.4 L454.8,792.4 L455.7,791.9 L456.7,791.4 L457.6,790.5 L458.6,789.8 L459.5,790.0 L460.4,789.2 L461.4,788.1 L462.3,787.4 L463.3,786.0 L464.2,784.7 L465.2,784.0 L466.1,781.8 L467.0,779.2 L468.0,776.7 L468.9,773.9 L469.9,771.3 L470.8,767.1 L471.7,762.7 L472.7,757.8 L473.6,751.2 L474.6,744.0 L475.5,735.7 L476.5,725.5 L477.4,713.1 L478.3,699.0 L479.3,682.1 L480.2,662.1 L481.2,638.9 L482.1,613.0 L483.1,584.2 L484.0,551.2 L484.9,515.2 L485.9,477.1 L486.8,437.6 L487.8,398.7 L488.7,363.2 L489.6,334.4 L490.6,334.8 L491.5,335.0 L492.5,334.2 L493.4,347.7 L494.4,395.8 L495.3,450.4 L496.2,504.9 L497.2,555.6 L498.1,601.0 L499.1,639.5 L500.0,671.4 L501.0,697.6 L501.9,719.0 L502.8,735.6 L503.8,748.8 L504.7,759.8 L505.7,768.6 L506.6,775.5 L507.5,780.9 L508.5,785.6 L509.4,789.6 L510.4,792.9 L511.3,795.9 L512.3,798.5 L513.2,801.1 L514.1,803.8 L515.1,805.6 L516.0,806.7 L517.0,808.3 L517.9,809.8 L518.8,811.2 L519.8,812.6 L520.7,813.7 L521.7,814.4 L522.6,815.0 L523.6,816.3 L524.5,817.4 L525.4,818.1 L526.4,818.2 L527.3,818.7 L528.3,819.8 L529.2,820.2 L530.2,820.2 L531.1,820.9 L532.0,821.5 L533.0,821.9 L533.9,822.4 L534.9,823.0 L535.8,823.7 L536.7,823.9 L537.7,824.1 L538.6,824.3 L539.6,825.2 L540.5,825.8 L541.5,825.5 L542.4,826.0 L543.3,826.4 L544.3,826.5 L545.2,826.7 L546.2,827.3 L547.1,827.7 L548.1,827.7 L549.0,827.5 L549.9,827.8 L550.9,828.2 L551.8,828.4 L552.8,828.3 L553.7,828.7 L554.6,829.3 L555.6,829.2 L556.5,829.2 L557.5,829.5 L558.4,829.3 L559.4,829.2 L560.3,829.5 L561.2,829.6 L562.2,829.8 L563.1,829.9 L564.1,830.0 L565.0,830.5 L565.9,830.1 L566.9,829.9 L567.8,830.3 L568.8,830.4 L569.7,830.2 L570.7,830.2 L571.6,830.3 L572.5,830.2 L573.5,830.4 L574.4,830.8 L575.4,830.8 L576.3,830.5 L577.3,830.2 L578.2,830.2 L579.1,830.5 L580.1,830.9 L581.0,830.7 L582.0,830.8 L582.9,830.9 L583.8,830.7 L584.8,831.1 L585.7,831.3 L586.7,831.2 L587.6,830.8 L588.6,830.3 L589.5,830.7 L590.4,831.3 L591.4,831.9 L592.3,831.8 L593.3,831.4 L594.2,831.7 L595.2,831.6 L596.1,831.7 L597.0,832.0 L598.0,831.6 L598.9,831.9 L599.9,831.7 L600.8,831.3 L601.7,831.8 L602.7,832.4 L603.6,831.9 L604.6,831.7 L605.5,832.1 L606.5,832.2 L607.4,832.0 L608.3,831.9 L609.3,831.8 L610.2,831.7 L611.2,831.5 L612.1,831.3 L613.0,831.5 L614.0,831.6 L614.9,831.5 L615.9,831.6 L616.8,832.2 L617.8,832.2 L618.7,831.9 L619.6,831.8 L620.6,831.8 L621.5,832.0 L622.5,832.0 L623.4,831.7 L624.4,831.8 L625.3,832.2 L626.2,832.2 L627.2,832.3 L628.1,832.3 L629.1,832.2 L630.0,832.2 L630.9,831.8 L631.9,832.0 L632.8,832.4 L633.8,832.4 L634.7,832.2 L635.7,832.4 L636.6,832.8 L637.5,832.5 L638.5,832.2 L639.4,832.2 L640.4,832.5 L641.3,832.7 L642.3,832.4 L643.2,831.8 L644.1,831.8 L645.1,832.0 L646.0,831.9 L647.0,832.1 L647.9,832.2 L648.8,831.9 L649.8,831.7 L650.7,831.6 L651.7,831.8 L652.6,831.5 L653.6,830.8 L654.5,831.0 L655.4,831.2 L656.4,831.0 L657.3,830.8 L658.3,831.1 L659.2,830.8 L660.1,830.5 L661.1,830.5 L662.0,830.3 L663.0,830.5 L663.9,830.5 L664.9,830.1 L665.8,830.1 L666.7,830.3 L667.7,830.1 L668.6,830.3 L669.6,829.8 L670.5,829.2 L671.5,829.4 L672.4,829.1 L673.3,829.2 L674.3,829.4 L675.2,828.6 L676.2,828.3 L677.1,829.0 L678.0,829.8 L679.0,829.4 L679.9,828.3 L680.9,828.0 L681.8,828.2 L682.8,827.8 L683.7,827.8 L684.6,827.7 L685.6,827.1 L686.5,826.9 L687.5,826.8 L688.4,826.9 L689.4,826.6 L690.3,826.5 L691.2,826.2 L692.2,825.5 L693.1,825.8 L694.1,826.7 L695.0,826.5 L695.9,825.8 L696.9,825.3 L697.8,825.0 L698.8,825.2 L699.7,825.5 L700.7,824.8 L701.6,824.7 L702.5,824.5 L703.5,824.0 L704.4,823.8 L705.4,823.3 L706.3,823.0 L707.2,822.6 L708.2,822.7 L709.1,822.4 L710.1,821.8 L711.0,821.3 L712.0,820.6 L712.9,820.2 L713.8,820.0 L714.8,819.5 L715.7,818.8 L716.7,817.8 L717.6,817.1 L718.6,816.2 L719.5,815.1 L720.4,814.5 L721.4,813.9 L722.3,812.7 L723.3,811.1 L724.2,810.3 L725.1,808.9 L726.1,806.8 L727.0,805.5 L728.0,804.2 L728.9,802.1 L729.9,800.3 L730.8,799.3 L731.7,797.9 L732.7,796.0 L733.6,794.3 L734.6,793.1 L735.5,791.3 L736.5,789.4 L737.4,788.3 L738.3,787.1 L739.3,786.2 L740.2,785.7 L741.2,785.8 L742.1,785.8 L743.0,785.9 L744.0,787.2 L744.9,788.6 L745.9,790.3 L746.8,792.7 L747.8,794.6 L748.7,797.0 L749.6,799.4 L750.6,801.6 L751.5,803.9 L752.5,806.1 L753.4,808.4 L754.3,809.8 L755.3,811.3 L756.2,813.2 L757.2,814.8 L758.1,816.1 L759.1,817.6 L760.0,819.2 L760.9,820.0 L761.9,820.9 L762.8,822.0 L763.8,822.7 L764.7,823.3 L765.7,824.1 L766.6,824.4 L767.5,824.7 L768.5,825.4 L769.4,826.2 L770.4,827.1 L771.3,827.9 L772.2,828.3 L773.2,828.8 L774.1,829.3 L775.1,829.0 L776.0,828.9 L777.0,829.1 L777.9,830.0 L778.8,830.4 L779.8,830.7 L780.7,830.8 L781.7,830.9 L782.6,831.2 L783.6,830.8 L784.5,831.0 L785.4,831.3 L786.4,831.6 L787.3,832.4 L788.3,832.3 L789.2,832.0 L790.1,832.6 L791.1,833.1 L792.0,833.5 L793.0,833.7 L793.9,833.3 L794.9,833.5 L795.8,833.9 L796.7,834.3 L797.7,834.3 L798.6,833.9 L799.6,834.0 L800.5,834.2 L801.4,834.7 L802.4,834.5 L803.3,834.3 L804.3,834.9 L805.2,834.8 L806.2,835.4 L807.1,835.6 L808.0,835.2 L809.0,835.2 L809.9,834.9 L810.9,834.9 L811.8,835.7 L812.8,835.9 L813.7,835.5 L814.6,835.4 L815.6,835.8 L816.5,836.2 L817.5,835.9 L818.4,835.4 L819.3,835.6 L820.3,836.1 L821.2,835.7 L822.2,836.0 L823.1,836.5 L824.1,835.4 L825.0,835.4 L825.9,835.9 L826.9,836.1 L827.8,835.9 L828.8,835.9 L829.7,836.2 L830.7,835.9 L831.6,836.2 L832.5,836.1 L833.5,836.2 L834.4,836.6 L835.4,836.3 L836.3,836.2 L837.2,836.1 L838.2,835.9 L839.1,836.0 L840.1,836.4 L841.0,836.5 L842.0,836.4 L842.9,836.2 L843.8,836.1 L844.8,836.2 L845.7,836.2 L846.7,836.5 L847.6,836.3 L848.5,836.4 L849.5,836.6 L850.4,836.0 L851.4,836.3 L852.3,836.6 L853.3,836.8 L854.2,836.9 L855.1,836.9 L856.1,836.9 L857.0,836.7 L858.0,836.6 L858.9,836.1 L859.9,836.1 L860.8,836.3 L861.7,836.4 L862.7,836.6 L863.6,836.8 L864.6,837.1 L865.5,836.9 L866.4,836.2 L867.4,836.1 L868.3,836.6 L869.3,836.3 L870.2,836.3 L871.2,836.8 L872.1,837.0 L873.0,837.1 L874.0,836.9 L874.9,836.2 L875.9,836.2 L876.8,836.9 L877.8,837.0 L878.7,836.9 L879.6,837.1 L880.6,837.0 L881.5,836.5 L882.5,836.5 L883.4,836.5 L884.3,836.9 L885.3,837.4 L886.2,836.8 L887.2,836.2 L888.1,836.8 L889.1,837.0 L890.0,836.7 L890.9,836.6 L891.9,836.6 L892.8,836.8 L893.8,836.8 L894.7,836.7 L895.6,836.8 L896.6,837.2 L897.5,837.9 L898.5,837.6 L899.4,837.3 L900.4,837.1 L901.3,836.6 L902.2,836.6 L903.2,836.9 L904.1,836.9 L905.1,836.6 L906.0,836.7 L907.0,836.8 L907.9,836.5 L908.8,836.6 L909.8,836.5 L910.7,836.7 L911.7,836.8 L912.6,836.9 L913.5,837.3 L914.5,837.3 L915.4,837.0 L916.4,837.0 L917.3,837.1 L918.3,837.1 L919.2,836.9 L920.1,836.3 L921.1,836.5 L922.0,836.5 L923.0,836.4 L923.9,836.3 L924.9,836.4 L925.8,837.3 L926.7,837.0 L927.7,836.6 L928.6,837.2 L929.6,837.3 L930.5,837.5 L931.4,837.4 L932.4,837.2 L933.3,836.9 L934.3,836.5 L935.2,837.2 L936.2,837.7 L937.1,837.4 L938.0,837.5 L939.0,837.4 L939.9,837.0 L940.9,837.2 L941.8,837.3 L942.7,837.0 L943.7,836.6 L944.6,836.4 L945.6,836.7 L946.5,836.8 L947.5,837.0 L948.4,837.1 L949.3,837.1 L950.3,837.1 L951.2,837.1 L952.2,837.5 L953.1,837.3 L954.1,836.9 L955.0,837.2 L955.9,837.5 L956.9,837.1 L957.8,837.0 L958.8,837.2 L959.7,837.2 L960.6,837.1 L961.6,836.8 L962.5,836.6 L963.5,837.2 L964.4,837.9 L965.4,837.5 L966.3,836.8 L967.2,836.8 L968.2,836.8 L969.1,837.0 L970.1,837.5 L971.0,837.2 L972.0,836.9 L972.9,836.9 L973.8,837.3 L974.8,837.4 L975.7,837.2 L976.7,837.1 L977.6,837.1 L978.5,837.4 L979.5,837.4 L980.4,837.0 L981.4,836.8 L982.3,837.3 L983.3,837.5 L984.2,837.6 L985.1,837.0 L986.1,837.2 L987.0,837.7 L988.0,837.2 L988.9,836.7 L989.8,836.9 L990.8,837.0 L991.7,836.8 L992.7,836.8 L993.6,836.9 L994.6,836.8 L995.5,836.7" fill="none" stroke="rgb(118,176,130)" stroke-width="1.25"/>
<path d="M147.7,839.0 L148.6,839.1 L149.6,839.2 L150.5,839.2 L151.5,839.4 L152.4,839.2 L153.4,839.2 L154.3,839.2 L155.2,839.2 L156.2,839.1 L157.1,839.0 L158.1,839.2 L159.0,839.2 L159.9,839.1 L160.9,839.2 L161.8,839.2 L162.8,839.0 L163.7,838.9 L164.7,839.1 L165.6,839.2 L166.5,839.2 L167.5,839.2 L168.4,839.5 L169.4,839.5 L170.3,839.3 L171.3,839.1 L172.2,839.0 L173.1,839.3 L174.1,839.4 L175.0,839.2 L176.0,839.2 L176.9,839.3 L177.8,839.2 L178.8,839.2 L179.7,839.2 L180.7,839.2 L181.6,839.1 L182.6,839.0 L183.5,839.2 L184.4,839.1 L185.4,839.0 L186.3,839.1 L187.3,839.2 L188.2,839.2 L189.1,839.2 L190.1,839.2 L191.0,839.1 L192.0,839.1 L192.9,839.2 L193.9,839.3 L194.8,839.2 L195.7,839.1 L196.7,839.2 L197.6,839.3 L198.6,839.3 L199.5,839.3 L200.5,839.4 L201.4,839.2 L202.3,839.1 L203.3,839.3 L204.2,839.3 L205.2,839.2 L206.1,839.0 L207.0,839.1 L208.0,839.2 L208.9,839.3 L209.9,839.2 L210.8,839.0 L211.8,839.2 L212.7,839.2 L213.6,839.1 L214.6,839.2 L215.5,839.2 L216.5,839.3 L217.4,839.4 L218.4,839.3 L219.3,839.2 L220.2,839.3 L221.2,839.2 L222.1,839.1 L223.1,839.3 L224.0,839.4 L224.9,839.3 L225.9,839.1 L226.8,839.2 L227.8,839.2 L228.7,839.3 L229.7,839.4 L230.6,839.4 L231.5,839.3 L232.5,839.2 L233.4,839.4 L234.4,839.2 L235.3,839.1 L236.2,839.3 L237.2,839.2 L238.1,839.2 L239.1,839.2 L240.0,839.5 L241.0,839.5 L241.9,839.3 L242.8,839.3 L243.8,839.5 L244.7,839.5 L245.7,839.4 L246.6,839.2 L247.6,839.3 L248.5,839.4 L249.4,839.3 L250.4,839.4 L251.3,839.4 L252.3,839.3 L253.2,839.3 L254.1,839.2 L255.1,839.2 L256.0,839.4 L257.0,839.3 L257.9,839.3 L258.9,839.5 L259.8,839.3 L260.7,839.3 L261.7,839.3 L262.6,839.3 L263.6,839.4 L264.5,839.4 L265.5,839.2 L266.4,839.3 L267.3,839.3 L268.3,839.4 L269.2,839.5 L270.2,839.5 L271.1,839.4 L272.0,839.3 L273.0,839.2 L273.9,839.4 L274.9,839.4 L275.8,839.2 L276.8,839.1 L277.7,839.2 L278.6,839.3 L279.6,839.3 L280.5,839.4 L281.5,839.3 L282.4,839.3 L283.3,839.3 L284.3,839.4 L285.2,839.5 L286.2,839.5 L287.1,839.5 L288.1,839.3 L289.0,839.1 L289.9,839.3 L290.9,839.5 L291.8,839.4 L292.8,839.2 L293.7,839.4 L294.7,839.4 L295.6,839.2 L296.5,839.2 L297.5,839.2 L298.4,839.2 L299.4,839.2 L300.3,839.4 L301.2,839.4 L302.2,839.4 L303.1,839.3 L304.1,839.3 L305.0,839.5 L306.0,839.4 L306.9,839.2 L307.8,839.1 L308.8,839.1 L309.7,839.4 L310.7,839.5 L311.6,839.4 L312.6,839.4 L313.5,839.5 L314.4,839.5 L315.4,839.3 L316.3,839.4 L317.3,839.4 L318.2,839.2 L319.1,839.2 L320.1,839.2 L321.0,839.1 L322.0,839.2 L322.9,839.2 L323.9,839.3 L324.8,839.2 L325.7,839.2 L326.7,839.4 L327.6,839.3 L328.6,839.3 L329.5,839.3 L330.4,839.2 L331.4,839.2 L332.3,839.3 L333.3,839.2 L334.2,839.1 L335.2,839.3 L336.1,839.5 L337.0,839.2 L338.0,839.0 L338.9,839.3 L339.9,839.4 L340.8,839.2 L341.8,839.1 L342.7,839.0 L343.6,838.9 L344.6,838.9 L345.5,838.9 L346.5,838.9 L347.4,838.6 L348.3,838.6 L349.3,838.7 L350.2,838.5 L351.2,838.5 L352.1,838.5 L353.1,838.6 L354.0,838.7 L354.9,838.5 L355.9,838.3 L356.8,838.2 L357.8,838.1 L358.7,838.1 L359.7,838.2 L360.6,838.3 L361.5,838.2 L362.5,838.0 L363.4,838.0 L364.4,838.1 L365.3,838.1 L366.2,838.0 L367.2,837.9 L368.1,837.8 L369.1,837.8 L370.0,837.6 L371.0,837.6 L371.9,837.4 L372.8,837.5 L373.8,837.7 L374.7,837.5 L375.7,837.1 L376.6,837.0 L377.5,837.0 L378.5,837.0 L379.4,837.0 L380.4,837.0 L381.3,837.0 L382.3,836.8 L383.2,836.7 L384.1,836.5 L385.1,836.5 L386.0,836.6 L387.0,836.3 L387.9,836.2 L388.9,836.3 L389.8,836.2 L390.7,836.1 L391.7,835.7 L392.6,835.5 L393.6,835.4 L394.5,835.3 L395.4,835.1 L396.4,834.9 L397.3,834.8 L398.3,834.7 L399.2,834.5 L400.2,834.1 L401.1,833.9 L402.0,833.7 L403.0,833.2 L403.9,833.0 L404.9,832.9 L405.8,832.3 L406.8,831.7 L407.7,831.1 L408.6,830.3 L409.6,829.3 L410.5,827.8 L411.5,825.8 L412.4,822.7 L413.3,818.1 L414.3,811.4 L415.2,801.5 L416.2,787.6 L417.1,769.2 L418.1,745.9 L419.0,718.2 L419.9,686.9 L420.9,654.6 L421.8,624.6 L422.8,600.9 L423.7,587.9 L424.6,588.7 L425.6,603.7 L426.5,629.4 L427.5,661.2 L428.4,694.4 L429.4,725.8 L430.3,753.4 L431.2,775.7 L432.2,792.8 L433.1,805.6 L434.1,814.4 L435.0,820.2 L436.0,824.1 L436.9,826.7 L437.8,828.4 L438.8,829.6 L439.7,830.6 L440.7,831.3 L441.6,831.8 L442.5,832.3 L443.5,832.7 L444.4,833.1 L445.4,833.1 L446.3,833.3 L447.3,833.6 L448.2,833.8 L449.1,833.9 L450.1,834.2 L451.0,834.2 L452.0,834.2 L452.9,834.1 L453.9,834.2 L454.8,834.1 L455.7,834.1 L456.7,834.2 L457.6,834.0 L458.6,833.7 L459.5,833.6 L460.4,833.7 L461.4,833.4 L462.3,833.0 L463.3,832.9 L464.2,832.7 L465.2,832.3 L466.1,831.9 L467.0,831.4 L468.0,831.0 L468.9,830.4 L469.9,829.6 L470.8,829.2 L471.7,828.3 L472.7,827.4 L473.6,826.2 L474.6,824.9 L475.5,823.7 L476.5,822.0 L477.4,819.8 L478.3,816.7 L479.3,812.5 L480.2,806.5 L481.2,797.7 L482.1,785.0 L483.1,767.1 L484.0,742.0 L484.9,708.6 L485.9,665.8 L486.8,613.3 L487.8,553.0 L488.7,488.2 L489.6,424.1 L490.6,368.2 L491.5,334.3 L492.5,334.3 L493.4,334.5 L494.4,369.7 L495.3,425.4 L496.2,489.2 L497.2,553.3 L498.1,612.9 L499.1,665.0 L500.0,707.9 L501.0,741.5 L501.9,766.7 L502.8,784.8 L503.8,797.5 L504.7,806.5 L505.7,812.5 L506.6,816.8 L507.5,819.8 L508.5,822.1 L509.4,824.3 L510.4,825.8 L511.3,827.1 L512.3,828.3 L513.2,829.2 L514.1,829.9 L515.1,830.8 L516.0,831.3 L517.0,831.9 L517.9,832.6 L518.8,833.0 L519.8,833.3 L520.7,833.6 L521.7,834.2 L522.6,834.6 L523.6,834.8 L524.5,834.9 L525.4,835.0 L526.4,835.3 L527.3,835.5 L528.3,835.8 L529.2,836.0 L530.2,836.0 L531.1,836.3 L532.0,836.5 L533.0,836.4 L533.9,836.6 L534.9,836.7 L535.8,836.6 L536.7,836.7 L537.7,836.9 L538.6,837.0 L539.6,836.9 L540.5,836.9 L541.5,837.2 L542.4,837.3 L543.3,837.1 L544.3,837.2 L545.2,837.3 L546.2,837.1 L547.1,837.2 L548.1,837.4 L549.0,837.6 L549.9,837.6 L550.9,837.4 L551.8,837.4 L552.8,837.7 L553.7,837.7 L554.6,837.6 L555.6,837.5 L556.5,837.6 L557.5,837.6 L558.4,837.6 L559.4,837.6 L560.3,837.6 L561.2,837.5 L562.2,837.6 L563.1,837.7 L564.1,837.6 L565.0,837.7 L565.9,837.7 L566.9,837.6 L567.8,837.5 L568.8,837.5 L569.7,837.6 L570.7,837.6 L571.6,837.7 L572.5,837.7 L573.5,837.6 L574.4,837.5 L575.4,837.6 L576.3,837.7 L577.3,837.8 L578.2,837.7 L579.1,837.5 L580.1,837.6 L581.0,837.6 L582.0,837.6 L582.9,837.5 L583.8,837.4 L584.8,837.5 L585.7,837.5 L586.7,837.4 L587.6,837.5 L588.6,837.5 L589.5,837.4 L590.4,837.5 L591.4,837.5 L592.3,837.4 L593.3,837.3 L594.2,837.4 L595.2,837.4 L596.1,837.4 L597.0,837.3 L598.0,837.1 L598.9,837.2 L599.9,837.1 L600.8,837.1 L601.7,837.3 L602.7,837.2 L603.6,837.2 L604.6,837.2 L605.5,837.0 L606.5,837.1 L607.4,837.1 L608.3,836.9 L609.3,836.8 L610.2,837.0 L611.2,836.9 L612.1,837.0 L613.0,837.0 L614.0,836.9 L614.9,837.1 L615.9,837.0 L616.8,836.9 L617.8,837.1 L618.7,836.9 L619.6,836.9 L620.6,837.0 L621.5,837.0 L622.5,837.0 L623.4,837.1 L624.4,837.2 L625.3,837.2 L626.2,837.1 L627.2,837.0 L628.1,837.1 L629.1,837.0 L630.0,837.1 L630.9,837.2 L631.9,837.3 L632.8,837.1 L633.8,837.1 L634.7,837.2 L635.7,837.2 L636.6,837.3 L637.5,837.2 L638.5,837.3 L639.4,837.4 L640.4,837.4 L641.3,837.5 L642.3,837.4 L643.2,837.3 L644.1,837.3 L645.1,837.4 L646.0,837.5 L647.0,837.5 L647.9,837.4 L648.8,837.6 L649.8,837.6 L650.7,837.5 L651.7,837.4 L652.6,837.6 L653.6,837.8 L654.5,837.7 L655.4,837.8 L656.4,837.9 L657.3,837.9 L658.3,837.9 L659.2,838.0 L660.1,837.9 L661.1,837.7 L662.0,837.7 L663.0,837.8 L663.9,837.8 L664.9,837.8 L665.8,837.7 L666.7,837.8 L667.7,838.0 L668.6,838.0 L669.6,838.0 L670.5,838.0 L671.5,838.0 L672.4,838.1 L673.3,838.1 L674.3,838.0 L675.2,837.9 L676.2,838.0 L677.1,838.1 L678.0,838.3 L679.0,838.3 L679.9,838.3 L680.9,838.1 L681.8,838.1 L682.8,838.2 L683.7,838.3 L684.6,838.3 L685.6,838.3 L686.5,838.5 L687.5,838.6 L688.4,838.5 L689.4,838.5 L690.3,838.3 L691.2,838.3 L692.2,838.5 L693.1,838.6 L694.1,838.4 L695.0,838.4 L695.9,838.5 L696.9,838.4 L697.8,838.4 L698.8,838.4 L699.7,838.5 L700.7,838.6 L701.6,838.5 L702.5,838.5 L703.5,838.6 L704.4,838.5 L705.4,838.5 L706.3,838.7 L707.2,838.7 L708.2,838.8 L709.1,838.7 L710.1,838.7 L711.0,838.7 L712.0,838.8 L712.9,838.9 L713.8,838.8 L714.8,838.7 L715.7,838.9 L716.7,838.8 L717.6,838.6 L718.6,838.9 L719.5,839.0 L720.4,838.8 L721.4,838.7 L722.3,838.8 L723.3,838.7 L724.2,838.7 L725.1,838.9 L726.1,838.8 L727.0,838.8 L728.0,838.7 L728.9,838.6 L729.9,838.7 L730.8,838.6 L731.7,838.6 L732.7,838.7 L733.6,838.4 L734.6,838.2 L735.5,838.1 L736.5,837.8 L737.4,837.5 L738.3,836.9 L739.3,836.1 L740.2,835.2 L741.2,833.9 L742.1,832.2 L743.0,830.2 L744.0,828.0 L744.9,825.4 L745.9,822.4 L746.8,819.3 L747.8,816.1 L748.7,812.5 L749.6,809.0 L750.6,806.0 L751.5,803.5 L752.5,801.5 L753.4,800.3 L754.3,799.6 L755.3,799.8 L756.2,800.8 L757.2,802.7 L758.1,805.3 L759.1,808.1 L760.0,811.4 L760.9,815.1 L761.9,818.7 L762.8,822.2 L763.8,825.4 L764.7,828.1 L765.7,830.3 L766.6,832.4 L767.5,834.1 L768.5,835.3 L769.4,836.4 L770.4,837.2 L771.3,837.5 L772.2,837.9 L773.2,838.3 L774.1,838.4 L775.1,838.6 L776.0,838.6 L777.0,838.5 L777.9,838.5 L778.8,838.6 L779.8,838.7 L780.7,838.9 L781.7,838.9 L782.6,839.0 L783.6,839.0 L784.5,838.8 L785.4,838.6 L786.4,838.8 L787.3,838.8 L788.3,838.9 L789.2,839.0 L790.1,839.0 L791.1,839.1 L792.0,839.0 L793.0,838.9 L793.9,838.9 L794.9,838.9 L795.8,839.0 L796.7,839.0 L797.7,838.9 L798.6,838.9 L799.6,839.0 L800.5,839.0 L801.4,838.8 L802.4,838.7 L803.3,838.7 L804.3,838.8 L805.2,838.9 L806.2,839.1 L807.1,839.0 L808.0,838.8 L809.0,838.6 L809.9,839.0 L810.9,839.2 L811.8,839.0 L812.8,839.0 L813.7,839.0 L814.6,838.9 L815.6,838.9 L816.5,838.9 L817.5,839.0 L818.4,839.1 L819.3,839.1 L820.3,838.9 L821.2,839.0 L822.2,839.1 L823.1,838.9 L824.1,838.9 L825.0,838.9 L825.9,838.9 L826.9,838.9 L827.8,838.8 L828.8,838.7 L829.7,838.7 L830.7,838.8 L831.6,838.8 L832.5,838.9 L833.5,838.8 L834.4,838.8 L835.4,838.8 L836.3,838.8 L837.2,838.7 L838.2,838.6 L839.1,838.8 L840.1,838.9 L841.0,838.8 L842.0,838.9 L842.9,838.9 L843.8,838.9 L844.8,839.0 L845.7,839.1 L846.7,839.1 L847.6,839.0 L848.5,838.9 L849.5,838.8 L850.4,838.9 L851.4,839.0 L852.3,839.2 L853.3,839.1 L854.2,838.9 L855.1,838.9 L856.1,838.8 L857.0,838.9 L858.0,839.0 L858.9,839.2 L859.9,839.1 L860.8,838.9 L861.7,839.0 L862.7,839.0 L863.6,839.0 L864.6,839.1 L865.5,838.9 L866.4,838.8 L867.4,838.9 L868.3,838.9 L869.3,838.9 L870.2,838.9 L871.2,838.8 L872.1,838.8 L873.0,838.9 L874.0,839.0 L874.9,839.0 L875.9,839.2 L876.8,839.4 L877.8,839.0 L878.7,838.8 L879.6,838.9 L880.6,839.0 L881.5,839.0 L882.5,839.0 L883.4,839.0 L884.3,839.0 L885.3,839.2 L886.2,839.3 L887.2,839.1 L888.1,838.9 L889.1,838.9 L890.0,839.0 L890.9,839.1 L891.9,839.0 L892.8,839.0 L893.8,838.8 L894.7,838.7 L895.6,838.7 L896.6,839.0 L897.5,839.0 L898.5,838.9 L899.4,838.9 L900.4,839.0 L901.3,839.0 L902.2,839.1 L903.2,839.1 L904.1,838.9 L905.1,839.0 L906.0,839.1 L907.0,839.0 L907.9,839.1 L908.8,839.2 L909.8,839.2 L910.7,839.2 L911.7,839.2 L912.6,839.2 L913.5,839.2 L914.5,839.1 L915.4,839.1 L916.4,839.3 L917.3,839.1 L918.3,839.0 L919.2,839.2 L920.1,839.2 L921.1,839.1 L922.0,839.1 L923.0,839.2 L923.9,839.2 L924.9,839.1 L925.8,839.1 L926.7,839.1 L927.7,839.0 L928.6,839.1 L929.6,839.0 L930.5,839.0 L931.4,839.2 L932.4,839.2 L933.3,839.1 L934.3,839.1 L935.2,839.1 L936.2,838.9 L937.1,838.9 L938.0,839.0 L939.0,839.1 L939.9,839.0 L940.9,839.0 L941.8,839.2 L942.7,839.3 L943.7,839.2 L944.6,839.0 L945.6,839.2 L946.5,839.3 L947.5,839.1 L948.4,839.0 L949.3,839.1 L950.3,839.3 L951.2,839.1 L952.2,839.1 L953.1,839.2 L954.1,839.2 L955.0,839.3 L955.9,839.2 L956.9,839.1 L957.8,839.2 L958.8,839.2 L959.7,839.0 L960.6,839.0 L961.6,839.0 L962.5,839.1 L963.5,839.1 L964.4,839.1 L965.4,839.1 L966.3,839.0 L967.2,839.2 L968.2,839.3 L969.1,839.3 L970.1,839.2 L971.0,839.2 L972.0,839.2 L972.9,839.1 L973.8,839.0 L974.8,839.1 L975.7,839.1 L976.7,839.1 L977.6,839.3 L978.5,839.3 L979.5,839.2 L980.4,839.2 L981.4,839.4 L982.3,839.2 L983.3,838.9 L984.2,838.9 L985.1,839.2 L986.1,839.3 L987.0,839.1 L988.0,839.1 L988.9,839.3 L989.8,839.3 L990.8,839.3 L991.7,839.4 L992.7,839.1 L993.6,839.0 L994.6,839.2 L995.5,839.4" fill="none" stroke="rgb(236,112,128)" stroke-width="1.25"/>
<path d="M147.7,839.4 L148.6,839.4 L149.6,839.4 L150.5,839.4 L151.5,839.5 L152.4,839.4 L153.4,839.5 L154.3,839.5 L155.2,839.5 L156.2,839.5 L157.1,839.5 L158.1,839.4 L159.0,839.4 L159.9,839.3 L160.9,839.4 L161.8,839.3 L162.8,839.0 L163.7,839.1 L164.7,839.3 L165.6,839.2 L166.5,839.2 L167.5,839.3 L168.4,839.4 L169.4,839.5 L170.3,839.5 L171.3,839.4 L172.2,839.2 L173.1,839.4 L174.1,839.5 L175.0,839.4 L176.0,839.4 L176.9,839.5 L177.8,839.5 L178.8,839.5 L179.7,839.5 L180.7,839.4 L181.6,839.1 L182.6,839.0 L183.5,839.3 L184.4,839.4 L185.4,839.2 L186.3,839.0 L187.3,839.1 L188.2,839.3 L189.1,839.5 L190.1,839.5 L191.0,839.4 L192.0,839.5 L192.9,839.2 L193.9,839.4 L194.8,839.5 L195.7,839.3 L196.7,839.2 L197.6,839.1 L198.6,839.3 L199.5,839.5 L200.5,839.4 L201.4,839.3 L202.3,839.4 L203.3,839.5 L204.2,839.3 L205.2,839.3 L206.1,839.5 L207.0,839.2 L208.0,838.9 L208.9,839.0 L209.9,839.3 L210.8,839.5 L211.8,839.5 L212.7,839.5 L213.6,839.5 L214.6,839.2 L215.5,839.1 L216.5,839.4 L217.4,839.5 L218.4,839.5 L219.3,839.3 L220.2,839.4 L221.2,839.5 L222.1,839.4 L223.1,839.5 L224.0,839.5 L224.9,839.4 L225.9,839.2 L226.8,839.0 L227.8,839.1 L228.7,839.5 L229.7,839.3 L230.6,839.1 L231.5,839.2 L232.5,839.5 L233.4,839.3 L234.4,839.0 L235.3,839.2 L236.2,839.3 L237.2,839.3 L238.1,839.3 L239.1,839.3 L240.0,839.3 L241.0,839.1 L241.9,839.2 L242.8,839.4 L243.8,839.2 L244.7,839.1 L245.7,839.2 L246.6,839.3 L247.6,839.2 L248.5,839.2 L249.4,839.3 L250.4,838.9 L251.3,838.9 L252.3,839.3 L253.2,839.5 L254.1,839.4 L255.1,839.4 L256.0,839.5 L257.0,839.5 L257.9,839.4 L258.9,839.2 L259.8,839.3 L260.7,839.2 L261.7,839.1 L262.6,839.3 L263.6,839.1 L264.5,839.1 L265.5,839.1 L266.4,839.2 L267.3,839.5 L268.3,839.5 L269.2,839.4 L270.2,839.4 L271.1,839.1 L272.0,839.1 L273.0,839.3 L273.9,839.4 L274.9,839.3 L275.8,839.2 L276.8,839.4 L277.7,839.3 L278.6,839.2 L279.6,839.2 L280.5,839.2 L281.5,839.1 L282.4,838.9 L283.3,839.0 L284.3,839.1 L285.2,839.1 L286.2,838.9 L287.1,838.8 L288.1,838.9 L289.0,839.0 L289.9,838.8 L290.9,839.1 L291.8,839.2 L292.8,839.1 L293.7,839.0 L294.7,838.9 L295.6,839.1 L296.5,839.2 L297.5,839.1 L298.4,838.9 L299.4,838.7 L300.3,838.9 L301.2,839.2 L302.2,838.6 L303.1,838.4 L304.1,838.8 L305.0,838.9 L306.0,839.2 L306.9,839.0 L307.8,838.7 L308.8,839.0 L309.7,838.9 L310.7,838.8 L311.6,839.1 L312.6,838.9 L313.5,838.7 L314.4,838.8 L315.4,838.9 L316.3,838.9 L317.3,839.1 L318.2,838.8 L319.1,838.4 L320.1,838.5 L321.0,838.6 L322.0,838.6 L322.9,838.7 L323.9,838.7 L324.8,838.5 L325.7,838.4 L326.7,838.5 L327.6,838.3 L328.6,838.3 L329.5,837.9 L330.4,837.6 L331.4,837.8 L332.3,837.5 L333.3,837.3 L334.2,837.0 L335.2,836.7 L336.1,836.2 L337.0,835.7 L338.0,835.4 L338.9,834.7 L339.9,833.8 L340.8,833.2 L341.8,832.2 L342.7,831.0 L343.6,829.6 L344.6,828.5 L345.5,827.3 L346.5,825.7 L347.4,824.3 L348.3,822.9 L349.3,821.6 L350.2,820.3 L351.2,819.3 L352.1,818.8 L353.1,818.2 L354.0,817.9 L354.9,818.4 L355.9,819.3 L356.8,820.8 L357.8,822.5 L358.7,824.3 L359.7,826.2 L360.6,827.7 L361.5,829.0 L362.5,830.3 L363.4,831.3 L364.4,832.1 L365.3,832.7 L366.2,833.0 L367.2,833.0 L368.1,833.2 L369.1,833.3 L370.0,833.0 L371.0,832.8 L371.9,833.0 L372.8,833.1 L373.8,833.0 L374.7,833.1 L375.7,833.1 L376.6,833.2 L377.5,833.3 L378.5,833.4 L379.4,833.6 L380.4,833.6 L381.3,833.5 L382.3,833.5 L383.2,833.5 L384.1,833.6 L385.1,833.5 L386.0,833.7 L387.0,834.0 L387.9,833.8 L388.9,833.8 L389.8,834.0 L390.7,833.9 L391.7,833.8 L392.6,834.0 L393.6,833.8 L394.5,833.8 L395.4,834.0 L396.4,833.9 L397.3,833.8 L398.3,833.6 L399.2,833.6 L400.2,833.6 L401.1,833.4 L402.0,833.2 L403.0,832.8 L403.9,832.2 L404.9,831.8 L405.8,831.0 L406.8,829.9 L407.7,828.2 L408.6,826.2 L409.6,823.6 L410.5,820.7 L411.5,817.3 L412.4,812.7 L413.3,807.9 L414.3,802.8 L415.2,797.5 L416.2,792.5 L417.1,788.1 L418.1,784.8 L419.0,782.9 L419.9,782.7 L420.9,783.1 L421.8,783.8 L422.8,784.8 L423.7,786.4 L424.6,788.2 L425.6,790.1 L426.5,791.9 L427.5,794.2 L428.4,796.5 L429.4,798.7 L430.3,801.0 L431.2,803.2 L432.2,805.8 L433.1,808.1 L434.1,810.6 L435.0,812.7 L436.0,814.4 L436.9,816.6 L437.8,818.4 L438.8,819.9 L439.7,821.5 L440.7,823.1 L441.6,824.4 L442.5,825.3 L443.5,826.4 L444.4,827.5 L445.4,828.3 L446.3,828.7 L447.3,829.4 L448.2,829.9 L449.1,830.5 L450.1,830.9 L451.0,831.1 L452.0,831.3 L452.9,831.2 L453.9,831.3 L454.8,831.7 L455.7,831.6 L456.7,831.6 L457.6,831.5 L458.6,831.1 L459.5,831.0 L460.4,830.9 L461.4,830.6 L462.3,830.2 L463.3,829.8 L464.2,829.1 L465.2,828.5 L466.1,828.1 L467.0,827.7 L468.0,826.7 L468.9,825.5 L469.9,824.8 L470.8,823.8 L471.7,822.6 L472.7,821.3 L473.6,819.4 L474.6,817.2 L475.5,815.0 L476.5,811.8 L477.4,807.4 L478.3,801.2 L479.3,792.5 L480.2,780.9 L481.2,765.1 L482.1,744.5 L483.1,717.4 L484.0,682.8 L484.9,640.9 L485.9,592.0 L486.8,537.2 L487.8,479.2 L488.7,422.0 L489.6,371.4 L490.6,334.2 L491.5,334.3 L492.5,334.3 L493.4,352.4 L494.4,401.2 L495.3,459.9 L496.2,521.6 L497.2,580.8 L498.1,634.1 L499.1,679.6 L500.0,716.9 L501.0,745.9 L501.9,767.4 L502.8,783.7 L503.8,795.5 L504.7,803.6 L505.7,809.5 L506.6,813.7 L507.5,816.9 L508.5,819.3 L509.4,821.4 L510.4,823.1 L511.3,824.4 L512.3,825.8 L513.2,826.7 L514.1,827.5 L515.1,828.4 L516.0,829.2 L517.0,829.9 L517.9,830.4 L518.8,831.0 L519.8,831.8 L520.7,832.1 L521.7,832.3 L522.6,832.7 L523.6,833.1 L524.5,833.4 L525.4,833.7 L526.4,834.1 L527.3,834.3 L528.3,834.4 L529.2,834.6 L530.2,834.9 L531.1,834.8 L532.0,834.7 L533.0,835.1 L533.9,835.4 L534.9,835.8 L535.8,836.0 L536.7,835.8 L537.7,835.6 L538.6,835.9 L539.6,836.2 L540.5,835.8 L541.5,835.6 L542.4,835.9 L543.3,835.9 L544.3,836.0 L545.2,836.2 L546.2,836.1 L547.1,836.0 L548.1,836.3 L549.0,836.2 L549.9,836.3 L550.9,836.6 L551.8,836.1 L552.8,836.1 L553.7,836.4 L554.6,836.5 L555.6,836.6 L556.5,836.6 L557.5,836.6 L558.4,836.4 L559.4,836.2 L560.3,836.1 L561.2,836.2 L562.2,836.3 L563.1,836.3 L564.1,836.2 L565.0,836.2 L565.9,836.3 L566.9,836.5 L567.8,836.3 L568.8,836.2 L569.7,836.3 L570.7,836.5 L571.6,836.5 L572.5,836.4 L573.5,836.2 L574.4,836.4 L575.4,836.5 L576.3,836.3 L577.3,836.4 L578.2,836.4 L579.1,836.2 L580.1,836.3 L581.0,836.6 L582.0,836.8 L582.9,836.6 L583.8,836.4 L584.8,836.4 L585.7,836.3 L586.7,836.1 L587.6,836.2 L588.6,836.4 L589.5,836.2 L590.4,836.0 L591.4,836.1 L592.3,836.1 L593.3,836.1 L594.2,835.9 L595.2,835.9 L596.1,835.8 L597.0,835.9 L598.0,835.7 L598.9,835.9 L599.9,836.2 L600.8,835.8 L601.7,835.8 L602.7,835.9 L603.6,836.1 L604.6,835.8 L605.5,835.8 L606.5,835.9 L607.4,835.6 L608.3,835.5 L609.3,835.4 L610.2,835.5 L611.2,835.8 L612.1,835.7 L613.0,835.8 L614.0,835.6 L614.9,835.4 L615.9,835.5 L616.8,835.6 L617.8,835.5 L618.7,835.5 L619.6,835.4 L620.6,835.5 L621.5,835.3 L622.5,835.2 L623.4,835.6 L624.4,835.4 L625.3,835.1 L626.2,835.3 L627.2,834.9 L628.1,834.8 L629.1,835.2 L630.0,835.3 L630.9,835.0 L631.9,835.0 L632.8,834.8 L633.8,834.6 L634.7,834.9 L635.7,835.0 L636.6,834.8 L637.5,834.8 L638.5,834.9 L639.4,834.7 L640.4,834.6 L641.3,834.8 L642.3,834.9 L643.2,834.6 L644.1,834.4 L645.1,834.3 L646.0,834.0 L647.0,833.9 L647.9,834.0 L648.8,833.7 L649.8,833.7 L650.7,833.7 L651.7,833.2 L652.6,833.1 L653.6,833.2 L654.5,832.7 L655.4,832.4 L656.4,832.4 L657.3,832.3 L658.3,832.2 L659.2,832.1 L660.1,831.8 L661.1,831.4 L662.0,831.2 L663.0,831.4 L663.9,831.3 L664.9,831.1 L665.8,831.1 L666.7,831.1 L667.7,830.6 L668.6,830.5 L669.6,830.6 L670.5,830.2 L671.5,830.0 L672.4,830.4 L673.3,830.5 L674.3,830.6 L675.2,830.7 L676.2,830.7 L677.1,831.0 L678.0,831.1 L679.0,831.1 L679.9,831.4 L680.9,831.4 L681.8,831.4 L682.8,831.7 L683.7,831.8 L684.6,832.3 L685.6,832.5 L686.5,832.4 L687.5,832.3 L688.4,832.2 L689.4,832.4 L690.3,832.7 L691.2,833.0 L692.2,833.1 L693.1,833.0 L694.1,833.4 L695.0,833.4 L695.9,833.1 L696.9,833.1 L697.8,833.4 L698.8,833.8 L699.7,833.7 L700.7,833.9 L701.6,834.0 L702.5,834.0 L703.5,833.8 L704.4,833.6 L705.4,833.5 L706.3,833.6 L707.2,834.0 L708.2,833.9 L709.1,833.7 L710.1,833.6 L711.0,833.5 L712.0,833.7 L712.9,833.7 L713.8,833.7 L714.8,833.8 L715.7,833.6 L716.7,833.6 L717.6,833.6 L718.6,833.8 L719.5,833.8 L720.4,833.6 L721.4,833.6 L722.3,833.7 L723.3,833.2 L724.2,833.0 L725.1,833.3 L726.1,833.4 L727.0,833.1 L728.0,833.2 L728.9,833.3 L729.9,832.8 L730.8,832.7 L731.7,832.6 L732.7,832.5 L733.6,832.4 L734.6,832.1 L735.5,831.9 L736.5,831.7 L737.4,831.5 L738.3,831.1 L739.3,830.9 L740.2,830.9 L741.2,830.6 L742.1,830.4 L743.0,830.3 L744.0,830.3 L744.9,830.0 L745.9,829.6 L746.8,829.3 L747.8,829.3 L748.7,828.8 L749.6,828.6 L750.6,829.0 L751.5,829.3 L752.5,829.3 L753.4,829.5 L754.3,829.7 L755.3,829.8 L756.2,830.1 L757.2,830.5 L758.1,830.9 L759.1,831.3 L760.0,831.8 L760.9,831.7 L761.9,831.9 L762.8,832.5 L763.8,832.8 L764.7,832.7 L765.7,833.0 L766.6,833.4 L767.5,833.6 L768.5,833.8 L769.4,833.8 L770.4,833.9 L771.3,834.0 L772.2,834.1 L773.2,834.5 L774.1,834.7 L775.1,834.4 L776.0,834.7 L777.0,835.0 L777.9,835.0 L778.8,835.3 L779.8,835.2 L780.7,835.1 L781.7,835.1 L782.6,835.2 L783.6,835.3 L784.5,835.6 L785.4,835.6 L786.4,835.4 L787.3,835.6 L788.3,835.7 L789.2,835.8 L790.1,835.7 L791.1,835.7 L792.0,836.1 L793.0,836.0 L793.9,836.0 L794.9,836.0 L795.8,835.8 L796.7,835.8 L797.7,836.0 L798.6,835.7 L799.6,835.9 L800.5,836.2 L801.4,835.9 L802.4,835.8 L803.3,835.7 L804.3,836.0 L805.2,836.2 L806.2,836.1 L807.1,836.3 L808.0,836.4 L809.0,836.5 L809.9,836.4 L810.9,836.2 L811.8,836.4 L812.8,836.4 L813.7,836.3 L814.6,836.6 L815.6,836.8 L816.5,836.6 L817.5,836.2 L818.4,836.4 L819.3,836.6 L820.3,836.7 L821.2,836.6 L822.2,836.5 L823.1,836.5 L824.1,836.5 L825.0,836.7 L825.9,836.9 L826.9,836.7 L827.8,836.8 L828.8,836.8 L829.7,836.5 L830.7,836.7 L831.6,836.7 L832.5,836.6 L833.5,836.6 L834.4,836.7 L835.4,836.8 L836.3,836.7 L837.2,836.5 L838.2,836.4 L839.1,836.6 L840.1,836.9 L841.0,836.9 L842.0,836.8 L842.9,836.9 L843.8,836.8 L844.8,836.7 L845.7,836.7 L846.7,836.8 L847.6,836.9 L848.5,836.7 L849.5,836.8 L850.4,837.0 L851.4,836.8 L852.3,836.8 L853.3,836.9 L854.2,836.8 L855.1,836.6 L856.1,836.6 L857.0,837.1 L858.0,837.2 L858.9,837.0 L859.9,836.9 L860.8,836.9 L861.7,836.8 L862.7,836.7 L863.6,837.1 L864.6,837.3 L865.5,837.4 L866.4,837.2 L867.4,836.9 L868.3,837.2 L869.3,837.4 L870.2,837.4 L871.2,837.2 L872.1,837.2 L873.0,837.3 L874.0,837.4 L874.9,837.1 L875.9,837.1 L876.8,837.5 L877.8,837.5 L878.7,837.4 L879.6,837.4 L880.6,837.4 L881.5,837.5 L882.5,837.5 L883.4,837.4 L884.3,837.5 L885.3,837.3 L886.2,837.0 L887.2,837.4 L888.1,837.7 L889.1,837.4 L890.0,837.2 L890.9,837.1 L891.9,837.5 L892.8,837.9 L893.8,837.7 L894.7,837.5 L895.6,837.6 L896.6,837.6 L897.5,837.4 L898.5,837.4 L899.4,837.6 L900.4,837.7 L901.3,837.6 L902.2,837.6 L903.2,837.5 L904.1,837.5 L905.1,837.5 L906.0,837.5 L907.0,837.5 L907.9,837.2 L908.8,837.6 L909.8,837.7 L910.7,837.6 L911.7,837.8 L912.6,837.7 L913.5,837.6 L914.5,837.8 L915.4,837.8 L916.4,837.6 L917.3,837.7 L918.3,837.9 L919.2,837.7 L920.1,837.7 L921.1,837.9 L922.0,837.6 L923.0,837.6 L923.9,838.0 L924.9,838.1 L925.8,837.9 L926.7,837.9 L927.7,837.8 L928.6,837.7 L929.6,837.8 L930.5,837.9 L931.4,837.8 L932.4,837.6 L933.3,838.0 L934.3,837.9 L935.2,837.8 L936.2,837.9 L937.1,838.1 L938.0,838.3 L939.0,838.2 L939.9,838.0 L940.9,837.8 L941.8,837.9 L942.7,838.1 L943.7,838.0 L944.6,838.1 L945.6,838.3 L946.5,838.3 L947.5,838.1 L948.4,838.0 L949.3,838.3 L950.3,838.2 L951.2,838.0 L952.2,837.9 L953.1,838.1 L954.1,838.2 L955.0,837.9 L955.9,838.0 L956.9,838.3 L957.8,838.2 L958.8,838.2 L959.7,838.3 L960.6,838.3 L961.6,838.4 L962.5,838.3 L963.5,838.2 L964.4,838.5 L965.4,838.5 L966.3,838.4 L967.2,838.3 L968.2,838.2 L969.1,838.0 L970.1,838.3 L971.0,838.6 L972.0,838.6 L972.9,838.6 L973.8,838.3 L974.8,838.4 L975.7,838.6 L976.7,838.7 L977.6,838.8 L978.5,838.6 L979.5,838.2 L980.4,838.4 L981.4,838.4 L982.3,838.3 L983.3,838.7 L984.2,838.6 L985.1,838.4 L986.1,838.4 L987.0,838.6 L988.0,838.4 L988.9,838.4 L989.8,838.6 L990.8,838.5 L991.7,838.7 L992.7,839.0 L993.6,839.1 L994.6,838.9 L995.5,838.7" fill="none" stroke="rgb(224,118,228)" stroke-width="1.25"/>
<rect x="148" y="296" width="847" height="544" fill="none" stroke="#000" stroke-width="3.6"/>
<rect x="165.4" y="832.5" width="2.2" height="7" fill="#000"/>
<rect x="165.4" y="296" width="2.2" height="7" fill="#000"/>
<rect x="184.3" y="832.5" width="2.2" height="7" fill="#000"/>
<rect x="184.3" y="296" width="2.2" height="7" fill="#000"/>
<rect x="203.1" y="832.5" width="2.2" height="7" fill="#000"/>
<rect x="203.1" y="296" width="2.2" height="7" fill="#000"/>
<rect x="222.0" y="832.5" width="2.2" height="7" fill="#000"/>
<rect x="222.0" y="296" width="2.2" height="7" fill="#000"/>
<rect x="240.3" y="824.5" width="3.2" height="15" fill="#000"/>
<rect x="240.3" y="296" width="3.2" height="14.5" fill="#000"/>
<rect x="259.6" y="832.5" width="2.2" height="7" fill="#000"/>
<rect x="259.6" y="296" width="2.2" height="7" fill="#000"/>
<rect x="278.5" y="832.5" width="2.2" height="7" fill="#000"/>
<rect x="278.5" y="296" width="2.2" height="7" fill="#000"/>
<rect x="297.3" y="832.5" width="2.2" height="7" fill="#000"/>
<rect x="297.3" y="296" width="2.2" height="7" fill="#000"/>
<rect x="316.2" y="832.5" width="2.2" height="7" fill="#000"/>
<rect x="316.2" y="296" width="2.2" height="7" fill="#000"/>
<rect x="334.5" y="824.5" width="3.2" height="15" fill="#000"/>
<rect x="334.5" y="296" width="3.2" height="14.5" fill="#000"/>
<rect x="353.8" y="832.5" width="2.2" height="7" fill="#000"/>
<rect x="353.8" y="296" width="2.2" height="7" fill="#000"/>
<rect x="372.7" y="832.5" width="2.2" height="7" fill="#000"/>
<rect x="372.7" y="296" width="2.2" height="7" fill="#000"/>
<rect x="391.5" y="832.5" width="2.2" height="7" fill="#000"/>
<rect x="391.5" y="296" width="2.2" height="7" fill="#000"/>
<rect x="410.4" y="832.5" width="2.2" height="7" fill="#000"/>
<rect x="410.4" y="296" width="2.2" height="7" fill="#000"/>
<rect x="428.7" y="824.5" width="3.2" height="15" fill="#000"/>
<rect x="428.7" y="296" width="3.2" height="14.5" fill="#000"/>
<rect x="448.0" y="832.5" width="2.2" height="7" fill="#000"/>
<rect x="448.0" y="296" width="2.2" height="7" fill="#000"/>
<rect x="466.9" y="832.5" width="2.2" height="7" fill="#000"/>
<rect x="466.9" y="296" width="2.2" height="7" fill="#000"/>
<rect x="485.7" y="832.5" width="2.2" height="7" fill="#000"/>
<rect x="485.7" y="296" width="2.2" height="7" fill="#000"/>
<rect x="504.6" y="832.5" width="2.2" height="7" fill="#000"/>
<rect x="504.6" y="296" width="2.2" height="7" fill="#000"/>
<rect x="522.9" y="824.5" width="3.2" height="15" fill="#000"/>
<rect x="522.9" y="296" width="3.2" height="14.5" fill="#000"/>
<rect x="542.2" y="832.5" width="2.2" height="7" fill="#000"/>
<rect x="542.2" y="296" width="2.2" height="7" fill="#000"/>
<rect x="561.1" y="832.5" width="2.2" height="7" fill="#000"/>
<rect x="561.1" y="296" width="2.2" height="7" fill="#000"/>
<rect x="579.9" y="832.5" width="2.2" height="7" fill="#000"/>
<rect x="579.9" y="296" width="2.2" height="7" fill="#000"/>
<rect x="598.8" y="832.5" width="2.2" height="7" fill="#000"/>
<rect x="598.8" y="296" width="2.2" height="7" fill="#000"/>
<rect x="617.1" y="824.5" width="3.2" height="15" fill="#000"/>
<rect x="617.1" y="296" width="3.2" height="14.5" fill="#000"/>
<rect x="636.4" y="832.5" width="2.2" height="7" fill="#000"/>
<rect x="636.4" y="296" width="2.2" height="7" fill="#000"/>
<rect x="655.3" y="832.5" width="2.2" height="7" fill="#000"/>
<rect x="655.3" y="296" width="2.2" height="7" fill="#000"/>
<rect x="674.1" y="832.5" width="2.2" height="7" fill="#000"/>
<rect x="674.1" y="296" width="2.2" height="7" fill="#000"/>
<rect x="693.0" y="832.5" width="2.2" height="7" fill="#000"/>
<rect x="693.0" y="296" width="2.2" height="7" fill="#000"/>
<rect x="711.3" y="824.5" width="3.2" height="15" fill="#000"/>
<rect x="711.3" y="296" width="3.2" height="14.5" fill="#000"/>
<rect x="730.6" y="832.5" width="2.2" height="7" fill="#000"/>
<rect x="730.6" y="296" width="2.2" height="7" fill="#000"/>
<rect x="749.5" y="832.5" width="2.2" height="7" fill="#000"/>
<rect x="749.5" y="296" width="2.2" height="7" fill="#000"/>
<rect x="768.3" y="832.5" width="2.2" height="7" fill="#000"/>
<rect x="768.3" y="296" width="2.2" height="7" fill="#000"/>
<rect x="787.2" y="832.5" width="2.2" height="7" fill="#000"/>
<rect x="787.2" y="296" width="2.2" height="7" fill="#000"/>
<rect x="805.5" y="824.5" width="3.2" height="15" fill="#000"/>
<rect x="805.5" y="296" width="3.2" height="14.5" fill="#000"/>
<rect x="824.8" y="832.5" width="2.2" height="7" fill="#000"/>
<rect x="824.8" y="296" width="2.2" height="7" fill="#000"/>
<rect x="843.7" y="832.5" width="2.2" height="7" fill="#000"/>
<rect x="843.7" y="296" width="2.2" height="7" fill="#000"/>
<rect x="862.5" y="832.5" width="2.2" height="7" fill="#000"/>
<rect x="862.5" y="296" width="2.2" height="7" fill="#000"/>
<rect x="881.4" y="832.5" width="2.2" height="7" fill="#000"/>
<rect x="881.4" y="296" width="2.2" height="7" fill="#000"/>
<rect x="899.7" y="824.5" width="3.2" height="15" fill="#000"/>
<rect x="899.7" y="296" width="3.2" height="14.5" fill="#000"/>
<rect x="919.0" y="832.5" width="2.2" height="7" fill="#000"/>
<rect x="919.0" y="296" width="2.2" height="7" fill="#000"/>
<rect x="937.9" y="832.5" width="2.2" height="7" fill="#000"/>
<rect x="937.9" y="296" width="2.2" height="7" fill="#000"/>
<rect x="956.7" y="832.5" width="2.2" height="7" fill="#000"/>
<rect x="956.7" y="296" width="2.2" height="7" fill="#000"/>
<rect x="975.6" y="832.5" width="2.2" height="7" fill="#000"/>
<rect x="975.6" y="296" width="2.2" height="7" fill="#000"/>
<rect x="148" y="838.5" width="15.6" height="3.4" fill="#000"/>
<rect x="980.5" y="838.5" width="14.5" height="3.4" fill="#000"/>
<rect x="148" y="826.9" width="8" height="2.4" fill="#000"/>
<rect x="987.5" y="826.9" width="7.5" height="2.4" fill="#000"/>
<rect x="148" y="814.7" width="8" height="2.4" fill="#000"/>
<rect x="987.5" y="814.7" width="7.5" height="2.4" fill="#000"/>
<rect x="148" y="802.6" width="8" height="2.4" fill="#000"/>
<rect x="987.5" y="802.6" width="7.5" height="2.4" fill="#000"/>
<rect x="148" y="790.4" width="8" height="2.4" fill="#000"/>
<rect x="987.5" y="790.4" width="7.5" height="2.4" fill="#000"/>
<rect x="148" y="777.8" width="15.6" height="3.4" fill="#000"/>
<rect x="980.5" y="777.8" width="14.5" height="3.4" fill="#000"/>
<rect x="148" y="766.2" width="8" height="2.4" fill="#000"/>
<rect x="987.5" y="766.2" width="7.5" height="2.4" fill="#000"/>
<rect x="148" y="754.0" width="8" height="2.4" fill="#000"/>
<rect x="987.5" y="754.0" width="7.5" height="2.4" fill="#000"/>
<rect x="148" y="741.9" width="8" height="2.4" fill="#000"/>
<rect x="987.5" y="741.9" width="7.5" height="2.4" fill="#000"/>
<rect x="148" y="729.8" width="8" height="2.4" fill="#000"/>
<rect x="987.5" y="729.8" width="7.5" height="2.4" fill="#000"/>
<rect x="148" y="717.1" width="15.6" height="3.4" fill="#000"/>
<rect x="980.5" y="717.1" width="14.5" height="3.4" fill="#000"/>
<rect x="148" y="705.5" width="8" height="2.4" fill="#000"/>
<rect x="987.5" y="705.5" width="7.5" height="2.4" fill="#000"/>
<rect x="148" y="693.3" width="8" height="2.4" fill="#000"/>
<rect x="987.5" y="693.3" width="7.5" height="2.4" fill="#000"/>
<rect x="148" y="681.2" width="8" height="2.4" fill="#000"/>
<rect x="987.5" y="681.2" width="7.5" height="2.4" fill="#000"/>
<rect x="148" y="669.1" width="8" height="2.4" fill="#000"/>
<rect x="987.5" y="669.1" width="7.5" height="2.4" fill="#000"/>
<rect x="148" y="656.4" width="15.6" height="3.4" fill="#000"/>
<rect x="980.5" y="656.4" width="14.5" height="3.4" fill="#000"/>
<rect x="148" y="644.8" width="8" height="2.4" fill="#000"/>
<rect x="987.5" y="644.8" width="7.5" height="2.4" fill="#000"/>
<rect x="148" y="632.7" width="8" height="2.4" fill="#000"/>
<rect x="987.5" y="632.7" width="7.5" height="2.4" fill="#000"/>
<rect x="148" y="620.5" width="8" height="2.4" fill="#000"/>
<rect x="987.5" y="620.5" width="7.5" height="2.4" fill="#000"/>
<rect x="148" y="608.4" width="8" height="2.4" fill="#000"/>
<rect x="987.5" y="608.4" width="7.5" height="2.4" fill="#000"/>
<rect x="148" y="595.7" width="15.6" height="3.4" fill="#000"/>
<rect x="980.5" y="595.7" width="14.5" height="3.4" fill="#000"/>
<rect x="148" y="584.1" width="8" height="2.4" fill="#000"/>
<rect x="987.5" y="584.1" width="7.5" height="2.4" fill="#000"/>
<rect x="148" y="572.0" width="8" height="2.4" fill="#000"/>
<rect x="987.5" y="572.0" width="7.5" height="2.4" fill="#000"/>
<rect x="148" y="559.8" width="8" height="2.4" fill="#000"/>
<rect x="987.5" y="559.8" width="7.5" height="2.4" fill="#000"/>
<rect x="148" y="547.7" width="8" height="2.4" fill="#000"/>
<rect x="987.5" y="547.7" width="7.5" height="2.4" fill="#000"/>
<rect x="148" y="535.0" width="15.6" height="3.4" fill="#000"/>
<rect x="980.5" y="535.0" width="14.5" height="3.4" fill="#000"/>
<rect x="148" y="523.4" width="8" height="2.4" fill="#000"/>
<rect x="987.5" y="523.4" width="7.5" height="2.4" fill="#000"/>
<rect x="148" y="511.3" width="8" height="2.4" fill="#000"/>
<rect x="987.5" y="511.3" width="7.5" height="2.4" fill="#000"/>
<rect x="148" y="499.1" width="8" height="2.4" fill="#000"/>
<rect x="987.5" y="499.1" width="7.5" height="2.4" fill="#000"/>
<rect x="148" y="487.0" width="8" height="2.4" fill="#000"/>
<rect x="987.5" y="487.0" width="7.5" height="2.4" fill="#000"/>
<rect x="148" y="474.4" width="15.6" height="3.4" fill="#000"/>
<rect x="980.5" y="474.4" width="14.5" height="3.4" fill="#000"/>
<rect x="148" y="462.7" width="8" height="2.4" fill="#000"/>
<rect x="987.5" y="462.7" width="7.5" height="2.4" fill="#000"/>
<rect x="148" y="450.6" width="8" height="2.4" fill="#000"/>
<rect x="987.5" y="450.6" width="7.5" height="2.4" fill="#000"/>
<rect x="148" y="438.4" width="8" height="2.4" fill="#000"/>
<rect x="987.5" y="438.4" width="7.5" height="2.4" fill="#000"/>
<rect x="148" y="426.3" width="8" height="2.4" fill="#000"/>
<rect x="987.5" y="426.3" width="7.5" height="2.4" fill="#000"/>
<rect x="148" y="413.7" width="15.6" height="3.4" fill="#000"/>
<rect x="980.5" y="413.7" width="14.5" height="3.4" fill="#000"/>
<rect x="148" y="402.0" width="8" height="2.4" fill="#000"/>
<rect x="987.5" y="402.0" width="7.5" height="2.4" fill="#000"/>
<rect x="148" y="389.9" width="8" height="2.4" fill="#000"/>
<rect x="987.5" y="389.9" width="7.5" height="2.4" fill="#000"/>
<rect x="148" y="377.8" width="8" height="2.4" fill="#000"/>
<rect x="987.5" y="377.8" width="7.5" height="2.4" fill="#000"/>
<rect x="148" y="365.6" width="8" height="2.4" fill="#000"/>
<rect x="987.5" y="365.6" width="7.5" height="2.4" fill="#000"/>
<rect x="148" y="353.0" width="15.6" height="3.4" fill="#000"/>
<rect x="980.5" y="353.0" width="14.5" height="3.4" fill="#000"/>
<rect x="148" y="341.3" width="8" height="2.4" fill="#000"/>
<rect x="987.5" y="341.3" width="7.5" height="2.4" fill="#000"/>
<rect x="148" y="329.2" width="8" height="2.4" fill="#000"/>
<rect x="987.5" y="329.2" width="7.5" height="2.4" fill="#000"/>
<rect x="148" y="317.1" width="8" height="2.4" fill="#000"/>
<rect x="987.5" y="317.1" width="7.5" height="2.4" fill="#000"/>
<rect x="148" y="304.9" width="8" height="2.4" fill="#000"/>
<rect x="987.5" y="304.9" width="7.5" height="2.4" fill="#000"/>
<rect x="148" y="292.3" width="15.6" height="3.4" fill="#000"/>
<rect x="980.5" y="292.3" width="14.5" height="3.4" fill="#000"/>
<text x="116.2" y="849.0" text-anchor="end" class="tk">0</text>
<text x="123.4" y="789.3" text-anchor="end" class="tk" textLength="47.5" lengthAdjust="spacingAndGlyphs">3000</text>
<text x="123.4" y="728.6" text-anchor="end" class="tk" textLength="47.5" lengthAdjust="spacingAndGlyphs">6000</text>
<text x="123.4" y="667.9" text-anchor="end" class="tk" textLength="47.5" lengthAdjust="spacingAndGlyphs">9000</text>
<text x="124.5" y="607.7" text-anchor="end" class="tk">12000</text>
<text x="124.5" y="547.1" text-anchor="end" class="tk">15000</text>
<text x="124.5" y="486.4" text-anchor="end" class="tk">18000</text>
<text x="124.5" y="425.7" text-anchor="end" class="tk">21000</text>
<text x="124.5" y="365.0" text-anchor="end" class="tk">24000</text>
<text x="124.5" y="304.3" text-anchor="end" class="tk">27000</text>
<text x="146.2" y="880" text-anchor="middle" class="tk">37</text>
<text x="240.4" y="880" text-anchor="middle" class="tk">39</text>
<text x="334.6" y="880" text-anchor="middle" class="tk">41</text>
<text x="428.8" y="880" text-anchor="middle" class="tk">43</text>
<text x="523.0" y="880" text-anchor="middle" class="tk">45</text>
<text x="617.2" y="880" text-anchor="middle" class="tk">47</text>
<text x="711.4" y="880" text-anchor="middle" class="tk">49</text>
<text x="805.6" y="880" text-anchor="middle" class="tk">51</text>
<text x="899.8" y="880" text-anchor="middle" class="tk">53</text>
<text x="185" y="364.5" style="font-family:'Liberation Sans',sans-serif;font-size:36px;fill:#000" textLength="44.5" lengthAdjust="spacingAndGlyphs">(d)</text>
<text class="leg" x="798" y="402.5" fill="#e01e3c" stroke="#e01e3c" textLength="93.5" lengthAdjust="spacingAndGlyphs">650ºC - 2h</text>
<text class="leg" x="798" y="435.5" fill="#1f7f35" stroke="#1f7f35" textLength="93.5" lengthAdjust="spacingAndGlyphs">700ºC - 2h</text>
<text class="leg" x="798" y="466" fill="#d22fd2" stroke="#d22fd2" textLength="93.5" lengthAdjust="spacingAndGlyphs">750ºC - 2h</text>
<text class="ax" transform="translate(41.9,766.3) rotate(-90) scale(1,0.85)" textLength="389.5" lengthAdjust="spacingAndGlyphs">Intensity (arb. units)</text>
<text x="961.5" y="886.2" style="font-family:'Liberation Sans',sans-serif;font-size:24.5px;fill:#222">2</text>
<text x="983.5" y="886.8" style="font-family:'Liberation Serif',serif;font-size:30.5px;fill:#222" textLength="16" lengthAdjust="spacingAndGlyphs">θ</text>
<text x="1008.5" y="881" style="font-family:'Liberation Serif',serif;font-size:29.5px;fill:#222">(</text>
<text x="1019.3" y="870.3" style="font-family:'Liberation Serif',serif;font-size:17.5px;fill:#222">o</text>
<text x="1028.5" y="881" style="font-family:'Liberation Serif',serif;font-size:29.5px;fill:#222">)</text>
</svg>
</body></html>
